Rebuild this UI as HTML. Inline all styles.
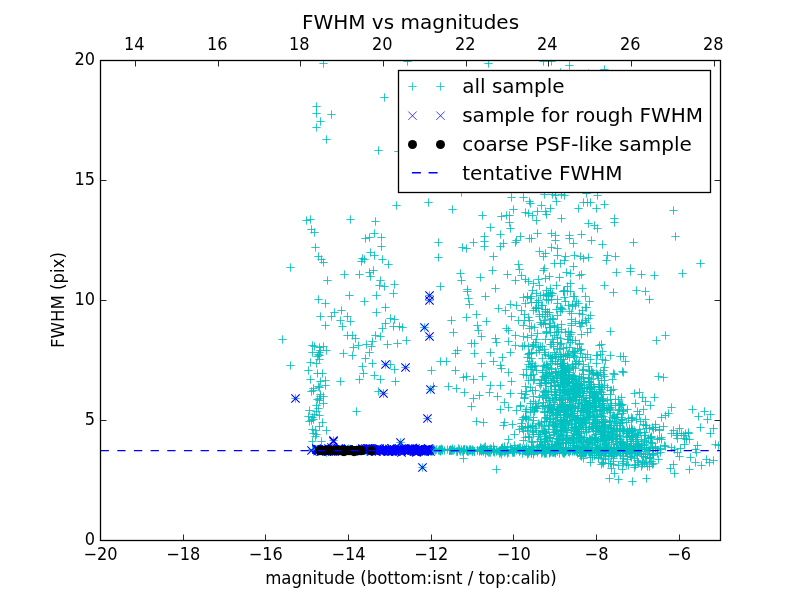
<!DOCTYPE html>
<html><head><meta charset="utf-8"><title>FWHM vs magnitudes</title>
<style>
html,body{margin:0;padding:0;background:#fff;}
body{width:800px;height:600px;overflow:hidden;}
svg{display:block;}
text{font-family:"DejaVu Sans","Liberation Sans",sans-serif;fill:#000;}
.tk{font-size:16.67px;}
.ti{font-size:20px;}
.lg{font-size:20px;}
.c{stroke:#00bfbf;stroke-width:0.85;fill:none;}
.b{stroke:#0000ff;stroke-width:1.05;fill:none;}
</style></head><body>
<svg width="800" height="600" viewBox="0 0 800 600">
<rect width="800" height="600" fill="#fff"/>

<clipPath id="ax"><rect x="100" y="60" width="620" height="480"/></clipPath>
<g clip-path="url(#ax)">
<path class="c" d="M560.33 290.5h8.34M564.5 286.33v8.34M523.33 297.5h8.34M527.5 293.33v8.34M527.33 296.5h8.34M531.5 292.33v8.34M544.33 296.5h8.34M548.5 292.33v8.34M570.33 296.5h8.34M574.5 292.33v8.34M561.33 301.5h8.34M565.5 297.33v8.34M538.33 305.5h8.34M542.5 301.33v8.34M553.33 303.5h8.34M557.5 299.33v8.34M581.33 307.5h8.34M585.5 303.33v8.34M556.33 311.5h8.34M560.5 307.33v8.34M520.33 314.5h8.34M524.5 310.33v8.34M541.33 316.5h8.34M545.5 312.33v8.34M571.33 321.5h8.34M575.5 317.33v8.34M584.33 318.5h8.34M588.5 314.33v8.34M536.33 322.5h8.34M540.5 318.33v8.34M567.33 325.5h8.34M571.5 321.33v8.34M578.33 322.5h8.34M582.5 318.33v8.34M530.33 327.5h8.34M534.5 323.33v8.34M542.33 332.5h8.34M546.5 328.33v8.34M552.33 332.5h8.34M556.5 328.33v8.34M567.33 332.5h8.34M571.5 328.33v8.34M532.33 339.5h8.34M536.5 335.33v8.34M568.33 340.5h8.34M572.5 336.33v8.34M553.33 342.5h8.34M557.5 338.33v8.34M557.33 343.5h8.34M561.5 339.33v8.34M575.33 344.5h8.34M579.5 340.33v8.34M553.33 348.5h8.34M557.5 344.33v8.34M562.33 347.5h8.34M566.5 343.33v8.34M540.33 352.5h8.34M544.5 348.33v8.34M570.33 351.5h8.34M574.5 347.33v8.34M565.33 357.5h8.34M569.5 353.33v8.34M592.33 355.5h8.34M596.5 351.33v8.34M548.33 358.5h8.34M552.5 354.33v8.34M575.33 361.5h8.34M579.5 357.33v8.34M557.33 364.5h8.34M561.5 360.33v8.34M600.33 367.5h8.34M604.5 363.33v8.34M562.33 371.5h8.34M566.5 367.33v8.34M592.33 373.5h8.34M596.5 369.33v8.34M522.33 375.5h8.34M526.5 371.33v8.34M527.33 375.5h8.34M531.5 371.33v8.34M542.33 375.5h8.34M546.5 371.33v8.34M558.33 375.5h8.34M562.5 371.33v8.34M565.33 374.5h8.34M569.5 370.33v8.34M568.33 377.5h8.34M572.5 373.33v8.34M584.33 377.5h8.34M588.5 373.33v8.34M593.33 374.5h8.34M597.5 370.33v8.34M567.33 379.5h8.34M571.5 375.33v8.34M564.33 381.5h8.34M568.5 377.33v8.34M568.33 378.5h8.34M572.5 374.33v8.34M558.33 382.5h8.34M562.5 378.33v8.34M563.33 383.5h8.34M567.5 379.33v8.34M562.33 384.5h8.34M566.5 380.33v8.34M571.33 384.5h8.34M575.5 380.33v8.34M575.33 384.5h8.34M579.5 380.33v8.34M584.33 382.5h8.34M588.5 378.33v8.34M559.33 389.5h8.34M563.5 385.33v8.34M558.33 389.5h8.34M562.5 385.33v8.34M574.33 386.5h8.34M578.5 382.33v8.34M582.33 387.5h8.34M586.5 383.33v8.34M586.33 389.5h8.34M590.5 385.33v8.34M590.33 387.5h8.34M594.5 383.33v8.34M595.33 386.5h8.34M599.5 382.33v8.34M556.33 390.5h8.34M560.5 386.33v8.34M560.33 391.5h8.34M564.5 387.33v8.34M572.33 391.5h8.34M576.5 387.33v8.34M574.33 390.5h8.34M578.5 386.33v8.34M578.33 393.5h8.34M582.5 389.33v8.34M579.33 393.5h8.34M583.5 389.33v8.34M578.33 393.5h8.34M582.5 389.33v8.34M590.33 393.5h8.34M594.5 389.33v8.34M596.33 391.5h8.34M600.5 387.33v8.34M597.33 392.5h8.34M601.5 388.33v8.34M607.33 390.5h8.34M611.5 386.33v8.34M529.33 396.5h8.34M533.5 392.33v8.34M559.33 395.5h8.34M563.5 391.33v8.34M561.33 395.5h8.34M565.5 391.33v8.34M564.33 397.5h8.34M568.5 393.33v8.34M575.33 396.5h8.34M579.5 392.33v8.34M572.33 395.5h8.34M576.5 391.33v8.34M585.33 397.5h8.34M589.5 393.33v8.34M591.33 395.5h8.34M595.5 391.33v8.34M590.33 396.5h8.34M594.5 392.33v8.34M546.33 400.5h8.34M550.5 396.33v8.34M567.33 400.5h8.34M571.5 396.33v8.34M595.33 401.5h8.34M599.5 397.33v8.34M598.33 399.5h8.34M602.5 395.33v8.34M598.33 398.5h8.34M602.5 394.33v8.34M603.33 400.5h8.34M607.5 396.33v8.34M606.33 399.5h8.34M610.5 395.33v8.34M543.33 405.5h8.34M547.5 401.33v8.34M545.33 405.5h8.34M549.5 401.33v8.34M559.33 405.5h8.34M563.5 401.33v8.34M566.33 405.5h8.34M570.5 401.33v8.34M568.33 405.5h8.34M572.5 401.33v8.34M611.33 405.5h8.34M615.5 401.33v8.34M516.33 406.5h8.34M520.5 402.33v8.34M522.33 409.5h8.34M526.5 405.33v8.34M526.33 409.5h8.34M530.5 405.33v8.34M531.33 408.5h8.34M535.5 404.33v8.34M532.33 406.5h8.34M536.5 402.33v8.34M546.33 408.5h8.34M550.5 404.33v8.34M558.33 407.5h8.34M562.5 403.33v8.34M563.33 408.5h8.34M567.5 404.33v8.34M570.33 408.5h8.34M574.5 404.33v8.34M579.33 408.5h8.34M583.5 404.33v8.34M578.33 408.5h8.34M582.5 404.33v8.34M580.33 408.5h8.34M584.5 404.33v8.34M584.33 409.5h8.34M588.5 405.33v8.34M588.33 409.5h8.34M592.5 405.33v8.34M598.33 407.5h8.34M602.5 403.33v8.34M600.33 407.5h8.34M604.5 403.33v8.34M606.33 409.5h8.34M610.5 405.33v8.34M540.33 412.5h8.34M544.5 408.33v8.34M554.33 410.5h8.34M558.5 406.33v8.34M560.33 411.5h8.34M564.5 407.33v8.34M562.33 410.5h8.34M566.5 406.33v8.34M568.33 413.5h8.34M572.5 409.33v8.34M570.33 411.5h8.34M574.5 407.33v8.34M579.33 411.5h8.34M583.5 407.33v8.34M577.33 410.5h8.34M581.5 406.33v8.34M583.33 411.5h8.34M587.5 407.33v8.34M586.33 411.5h8.34M590.5 407.33v8.34M588.33 411.5h8.34M592.5 407.33v8.34M596.33 411.5h8.34M600.5 407.33v8.34M598.33 413.5h8.34M602.5 409.33v8.34M619.33 411.5h8.34M623.5 407.33v8.34M618.33 413.5h8.34M622.5 409.33v8.34M553.33 415.5h8.34M557.5 411.33v8.34M553.33 414.5h8.34M557.5 410.33v8.34M553.33 417.5h8.34M557.5 413.33v8.34M560.33 417.5h8.34M564.5 413.33v8.34M564.33 414.5h8.34M568.5 410.33v8.34M578.33 417.5h8.34M582.5 413.33v8.34M590.33 417.5h8.34M594.5 413.33v8.34M593.33 414.5h8.34M597.5 410.33v8.34M609.33 415.5h8.34M613.5 411.33v8.34M627.33 417.5h8.34M631.5 413.33v8.34M529.33 420.5h8.34M533.5 416.33v8.34M546.33 419.5h8.34M550.5 415.33v8.34M551.33 419.5h8.34M555.5 415.33v8.34M557.33 420.5h8.34M561.5 416.33v8.34M559.33 419.5h8.34M563.5 415.33v8.34M565.33 420.5h8.34M569.5 416.33v8.34M571.33 418.5h8.34M575.5 414.33v8.34M574.33 420.5h8.34M578.5 416.33v8.34M580.33 419.5h8.34M584.5 415.33v8.34M590.33 419.5h8.34M594.5 415.33v8.34M605.33 420.5h8.34M609.5 416.33v8.34M605.33 421.5h8.34M609.5 417.33v8.34M617.33 420.5h8.34M621.5 416.33v8.34M617.33 419.5h8.34M621.5 415.33v8.34M627.33 420.5h8.34M631.5 416.33v8.34M624.33 418.5h8.34M628.5 414.33v8.34M528.33 425.5h8.34M532.5 421.33v8.34M549.33 422.5h8.34M553.5 418.33v8.34M557.33 423.5h8.34M561.5 419.33v8.34M567.33 423.5h8.34M571.5 419.33v8.34M585.33 422.5h8.34M589.5 418.33v8.34M592.33 425.5h8.34M596.5 421.33v8.34M598.33 422.5h8.34M602.5 418.33v8.34M600.33 424.5h8.34M604.5 420.33v8.34M605.33 425.5h8.34M609.5 421.33v8.34M606.33 422.5h8.34M610.5 418.33v8.34M531.33 428.5h8.34M535.5 424.33v8.34M559.33 428.5h8.34M563.5 424.33v8.34M560.33 429.5h8.34M564.5 425.33v8.34M561.33 429.5h8.34M565.5 425.33v8.34M572.33 426.5h8.34M576.5 422.33v8.34M576.33 426.5h8.34M580.5 422.33v8.34M579.33 429.5h8.34M583.5 425.33v8.34M591.33 427.5h8.34M595.5 423.33v8.34M588.33 428.5h8.34M592.5 424.33v8.34M600.33 427.5h8.34M604.5 423.33v8.34M609.33 429.5h8.34M613.5 425.33v8.34M627.33 428.5h8.34M631.5 424.33v8.34M625.33 428.5h8.34M629.5 424.33v8.34M628.33 429.5h8.34M632.5 425.33v8.34M648.33 427.5h8.34M652.5 423.33v8.34M519.33 431.5h8.34M523.5 427.33v8.34M523.33 430.5h8.34M527.5 426.33v8.34M529.33 432.5h8.34M533.5 428.33v8.34M550.33 432.5h8.34M554.5 428.33v8.34M552.33 430.5h8.34M556.5 426.33v8.34M556.33 431.5h8.34M560.5 427.33v8.34M582.33 432.5h8.34M586.5 428.33v8.34M599.33 432.5h8.34M603.5 428.33v8.34M604.33 432.5h8.34M608.5 428.33v8.34M607.33 433.5h8.34M611.5 429.33v8.34M619.33 431.5h8.34M623.5 427.33v8.34M655.33 430.5h8.34M659.5 426.33v8.34M681.33 433.5h8.34M685.5 429.33v8.34M684.33 432.5h8.34M688.5 428.33v8.34M545.33 437.5h8.34M549.5 433.33v8.34M559.33 435.5h8.34M563.5 431.33v8.34M556.33 436.5h8.34M560.5 432.33v8.34M568.33 437.5h8.34M572.5 433.33v8.34M580.33 437.5h8.34M584.5 433.33v8.34M591.33 434.5h8.34M595.5 430.33v8.34M598.33 436.5h8.34M602.5 432.33v8.34M596.33 434.5h8.34M600.5 430.33v8.34M604.33 435.5h8.34M608.5 431.33v8.34M625.33 436.5h8.34M629.5 432.33v8.34M628.33 437.5h8.34M632.5 433.33v8.34M628.33 435.5h8.34M632.5 431.33v8.34M647.33 436.5h8.34M651.5 432.33v8.34M519.33 440.5h8.34M523.5 436.33v8.34M527.33 441.5h8.34M531.5 437.33v8.34M542.33 438.5h8.34M546.5 434.33v8.34M548.33 441.5h8.34M552.5 437.33v8.34M555.33 440.5h8.34M559.5 436.33v8.34M558.33 438.5h8.34M562.5 434.33v8.34M574.33 441.5h8.34M578.5 437.33v8.34M576.33 438.5h8.34M580.5 434.33v8.34M583.33 441.5h8.34M587.5 437.33v8.34M587.33 439.5h8.34M591.5 435.33v8.34M590.33 439.5h8.34M594.5 435.33v8.34M593.33 441.5h8.34M597.5 437.33v8.34M602.33 439.5h8.34M606.5 435.33v8.34M605.33 440.5h8.34M609.5 436.33v8.34M607.33 439.5h8.34M611.5 435.33v8.34M613.33 438.5h8.34M617.5 434.33v8.34M612.33 438.5h8.34M616.5 434.33v8.34M626.33 439.5h8.34M630.5 435.33v8.34M631.33 439.5h8.34M635.5 435.33v8.34M640.33 441.5h8.34M644.5 437.33v8.34M644.33 438.5h8.34M648.5 434.33v8.34M680.33 438.5h8.34M684.5 434.33v8.34M685.33 439.5h8.34M689.5 435.33v8.34M554.33 444.5h8.34M558.5 440.33v8.34M556.33 442.5h8.34M560.5 438.33v8.34M561.33 442.5h8.34M565.5 438.33v8.34M575.33 442.5h8.34M579.5 438.33v8.34M600.33 444.5h8.34M604.5 440.33v8.34M613.33 443.5h8.34M617.5 439.33v8.34M618.33 445.5h8.34M622.5 441.33v8.34M616.33 442.5h8.34M620.5 438.33v8.34M623.33 443.5h8.34M627.5 439.33v8.34M629.33 445.5h8.34M633.5 441.33v8.34M640.33 445.5h8.34M644.5 441.33v8.34M660.33 445.5h8.34M664.5 441.33v8.34M680.33 444.5h8.34M684.5 440.33v8.34M539.33 449.5h8.34M543.5 445.33v8.34M566.33 447.5h8.34M570.5 443.33v8.34M570.33 448.5h8.34M574.5 444.33v8.34M574.33 449.5h8.34M578.5 445.33v8.34M595.33 446.5h8.34M599.5 442.33v8.34M596.33 447.5h8.34M600.5 443.33v8.34M614.33 449.5h8.34M618.5 445.33v8.34M612.33 447.5h8.34M616.5 443.33v8.34M612.33 448.5h8.34M616.5 444.33v8.34M626.33 448.5h8.34M630.5 444.33v8.34M635.33 446.5h8.34M639.5 442.33v8.34M640.33 448.5h8.34M644.5 444.33v8.34M667.33 447.5h8.34M671.5 443.33v8.34M676.33 448.5h8.34M680.5 444.33v8.34M549.33 452.5h8.34M553.5 448.33v8.34M559.33 450.5h8.34M563.5 446.33v8.34M573.33 453.5h8.34M577.5 449.33v8.34M590.33 453.5h8.34M594.5 449.33v8.34M592.33 451.5h8.34M596.5 447.33v8.34M602.33 450.5h8.34M606.5 446.33v8.34M601.33 453.5h8.34M605.5 449.33v8.34M605.33 452.5h8.34M609.5 448.33v8.34M606.33 451.5h8.34M610.5 447.33v8.34M631.33 450.5h8.34M635.5 446.33v8.34M633.33 451.5h8.34M637.5 447.33v8.34M577.33 456.5h8.34M581.5 452.33v8.34M588.33 455.5h8.34M592.5 451.33v8.34M588.33 457.5h8.34M592.5 453.33v8.34M597.33 455.5h8.34M601.5 451.33v8.34M610.33 454.5h8.34M614.5 450.33v8.34M619.33 456.5h8.34M623.5 452.33v8.34M626.33 456.5h8.34M630.5 452.33v8.34M649.33 454.5h8.34M653.5 450.33v8.34M675.33 456.5h8.34M679.5 452.33v8.34M599.33 458.5h8.34M603.5 454.33v8.34M601.33 459.5h8.34M605.5 455.33v8.34M609.33 458.5h8.34M613.5 454.33v8.34M645.33 458.5h8.34M649.5 454.33v8.34M586.33 462.5h8.34M590.5 458.33v8.34M614.33 465.5h8.34M618.5 461.33v8.34M618.33 469.5h8.34M622.5 465.33v8.34M643.33 466.5h8.34M647.5 462.33v8.34M316.33 450.5h8.34M320.5 446.33v8.34M326.33 448.5h8.34M330.5 444.33v8.34M334.33 451.5h8.34M338.5 447.33v8.34M334.33 449.5h8.34M338.5 445.33v8.34M337.33 450.5h8.34M341.5 446.33v8.34M338.33 451.5h8.34M342.5 447.33v8.34M338.33 448.5h8.34M342.5 444.33v8.34M340.33 448.5h8.34M344.5 444.33v8.34M345.33 450.5h8.34M349.5 446.33v8.34M345.33 450.5h8.34M349.5 446.33v8.34M347.33 450.5h8.34M351.5 446.33v8.34M352.33 450.5h8.34M356.5 446.33v8.34M352.33 450.5h8.34M356.5 446.33v8.34M353.33 451.5h8.34M357.5 447.33v8.34M353.33 451.5h8.34M357.5 447.33v8.34M356.33 450.5h8.34M360.5 446.33v8.34M359.33 449.5h8.34M363.5 445.33v8.34M363.33 450.5h8.34M367.5 446.33v8.34M365.33 450.5h8.34M369.5 446.33v8.34M373.33 449.5h8.34M377.5 445.33v8.34M377.33 450.5h8.34M381.5 446.33v8.34M379.33 449.5h8.34M383.5 445.33v8.34M381.33 448.5h8.34M385.5 444.33v8.34M382.33 451.5h8.34M386.5 447.33v8.34M383.33 451.5h8.34M387.5 447.33v8.34M388.33 449.5h8.34M392.5 445.33v8.34M392.33 450.5h8.34M396.5 446.33v8.34M398.33 449.5h8.34M402.5 445.33v8.34M399.33 450.5h8.34M403.5 446.33v8.34M413.33 449.5h8.34M417.5 445.33v8.34M418.33 450.5h8.34M422.5 446.33v8.34M420.33 451.5h8.34M424.5 447.33v8.34M426.33 450.5h8.34M430.5 446.33v8.34M428.33 450.5h8.34M432.5 446.33v8.34M429.33 450.5h8.34M433.5 446.33v8.34M431.33 450.5h8.34M435.5 446.33v8.34M438.33 450.5h8.34M442.5 446.33v8.34M448.33 448.5h8.34M452.5 444.33v8.34M448.33 450.5h8.34M452.5 446.33v8.34M462.33 450.5h8.34M466.5 446.33v8.34M463.33 451.5h8.34M467.5 447.33v8.34M466.33 450.5h8.34M470.5 446.33v8.34M468.33 451.5h8.34M472.5 447.33v8.34M468.33 451.5h8.34M472.5 447.33v8.34M476.33 450.5h8.34M480.5 446.33v8.34M478.33 449.5h8.34M482.5 445.33v8.34M479.33 448.5h8.34M483.5 444.33v8.34M483.33 450.5h8.34M487.5 446.33v8.34M487.33 449.5h8.34M491.5 445.33v8.34M489.33 451.5h8.34M493.5 447.33v8.34M490.33 449.5h8.34M494.5 445.33v8.34M490.33 450.5h8.34M494.5 446.33v8.34M495.33 453.5h8.34M499.5 449.33v8.34M497.33 450.5h8.34M501.5 446.33v8.34M497.33 449.5h8.34M501.5 445.33v8.34M502.33 450.5h8.34M506.5 446.33v8.34M506.33 449.5h8.34M510.5 445.33v8.34M508.33 452.5h8.34M512.5 448.33v8.34M509.33 452.5h8.34M513.5 448.33v8.34M510.33 452.5h8.34M514.5 448.33v8.34M510.33 445.5h8.34M514.5 441.33v8.34M511.33 448.5h8.34M515.5 444.33v8.34M515.33 449.5h8.34M519.5 445.33v8.34M521.33 451.5h8.34M525.5 447.33v8.34M524.33 453.5h8.34M528.5 449.33v8.34M530.33 451.5h8.34M534.5 447.33v8.34M535.33 447.5h8.34M539.5 443.33v8.34M541.33 447.5h8.34M545.5 443.33v8.34M541.33 448.5h8.34M545.5 444.33v8.34M545.33 451.5h8.34M549.5 447.33v8.34M547.33 451.5h8.34M551.5 447.33v8.34M549.33 450.5h8.34M553.5 446.33v8.34M549.33 451.5h8.34M553.5 447.33v8.34M559.33 449.5h8.34M563.5 445.33v8.34M559.33 448.5h8.34M563.5 444.33v8.34M560.33 451.5h8.34M564.5 447.33v8.34M561.33 451.5h8.34M565.5 447.33v8.34M564.33 449.5h8.34M568.5 445.33v8.34M565.33 452.5h8.34M569.5 448.33v8.34M570.33 450.5h8.34M574.5 446.33v8.34M571.33 450.5h8.34M575.5 446.33v8.34M572.33 449.5h8.34M576.5 445.33v8.34M575.33 449.5h8.34M579.5 445.33v8.34M576.33 446.5h8.34M580.5 442.33v8.34M581.33 452.5h8.34M585.5 448.33v8.34M583.33 448.5h8.34M587.5 444.33v8.34M584.33 448.5h8.34M588.5 444.33v8.34M585.33 451.5h8.34M589.5 447.33v8.34M588.33 452.5h8.34M592.5 448.33v8.34M595.33 449.5h8.34M599.5 445.33v8.34M597.33 452.5h8.34M601.5 448.33v8.34M599.33 452.5h8.34M603.5 448.33v8.34M601.33 451.5h8.34M605.5 447.33v8.34M607.33 448.5h8.34M611.5 444.33v8.34M612.33 449.5h8.34M616.5 445.33v8.34M612.33 447.5h8.34M616.5 443.33v8.34M614.33 450.5h8.34M618.5 446.33v8.34M616.33 448.5h8.34M620.5 444.33v8.34M618.33 451.5h8.34M622.5 447.33v8.34M619.33 445.5h8.34M623.5 441.33v8.34M620.33 448.5h8.34M624.5 444.33v8.34M621.33 451.5h8.34M625.5 447.33v8.34M621.33 452.5h8.34M625.5 448.33v8.34M622.33 448.5h8.34M626.5 444.33v8.34M625.33 447.5h8.34M629.5 443.33v8.34M635.33 449.5h8.34M639.5 445.33v8.34M645.33 450.5h8.34M649.5 446.33v8.34M645.33 450.5h8.34M649.5 446.33v8.34M380.33 97.5h8.34M384.5 93.33v8.34M370.33 233.5h8.34M374.5 229.33v8.34M360.33 259.5h8.34M364.5 255.33v8.34M384.33 264.5h8.34M388.5 260.33v8.34M390.33 284.5h8.34M394.5 280.33v8.34M389.33 293.5h8.34M393.5 289.33v8.34M314.33 299.5h8.34M318.5 295.33v8.34M330.33 312.5h8.34M334.5 308.33v8.34M327.33 316.5h8.34M331.5 312.33v8.34M336.33 320.5h8.34M340.5 316.33v8.34M390.33 319.5h8.34M394.5 315.33v8.34M351.33 338.5h8.34M355.5 334.33v8.34M371.33 335.5h8.34M375.5 331.33v8.34M278.33 339.5h8.34M282.5 335.33v8.34M354.33 345.5h8.34M358.5 341.33v8.34M367.33 346.5h8.34M371.5 342.33v8.34M393.33 343.5h8.34M397.5 339.33v8.34M348.33 355.5h8.34M352.5 351.33v8.34M336.33 381.5h8.34M340.5 377.33v8.34M291.33 398.5h8.34M295.5 394.33v8.34M457.33 192.5h8.34M461.5 188.33v8.34M502.33 215.5h8.34M506.5 211.33v8.34M524.33 213.5h8.34M528.5 209.33v8.34M486.33 227.5h8.34M490.5 223.33v8.34M480.33 241.5h8.34M484.5 237.33v8.34M516.33 236.5h8.34M520.5 232.33v8.34M496.33 246.5h8.34M500.5 242.33v8.34M434.33 257.5h8.34M438.5 253.33v8.34M463.33 289.5h8.34M467.5 285.33v8.34M494.33 308.5h8.34M498.5 304.33v8.34M512.33 305.5h8.34M516.5 301.33v8.34M511.33 335.5h8.34M515.5 331.33v8.34M436.33 361.5h8.34M440.5 357.33v8.34M451.33 370.5h8.34M455.5 366.33v8.34M496.33 385.5h8.34M500.5 381.33v8.34M444.33 386.5h8.34M448.5 382.33v8.34M499.33 425.5h8.34M503.5 421.33v8.34M515.33 429.5h8.34M519.5 425.33v8.34M423.33 418.5h8.34M427.5 414.33v8.34M593.33 195.5h8.34M597.5 191.33v8.34M533.33 211.5h8.34M537.5 207.33v8.34M528.33 215.5h8.34M532.5 211.33v8.34M592.33 208.5h8.34M596.5 204.33v8.34M551.33 235.5h8.34M555.5 231.33v8.34M569.33 243.5h8.34M573.5 239.33v8.34M626.33 268.5h8.34M630.5 264.33v8.34M632.33 290.5h8.34M636.5 286.33v8.34M641.33 291.5h8.34M645.5 287.33v8.34M595.33 345.5h8.34M599.5 341.33v8.34M601.33 360.5h8.34M605.5 356.33v8.34M669.33 210.5h8.34M673.5 206.33v8.34M671.33 236.5h8.34M675.5 232.33v8.34M696.33 263.5h8.34M700.5 259.33v8.34M619.33 372.5h8.34M623.5 368.33v8.34M630.33 393.5h8.34M634.5 389.33v8.34M706.33 433.5h8.34M710.5 429.33v8.34M693.33 445.5h8.34M697.5 441.33v8.34M692.33 452.5h8.34M696.5 448.33v8.34M310.33 346.5h8.34M314.5 342.33v8.34M312.33 363.5h8.34M316.5 359.33v8.34M304.33 370.5h8.34M308.5 366.33v8.34M309.33 388.5h8.34M313.5 384.33v8.34M315.33 398.5h8.34M319.5 394.33v8.34M312.33 405.5h8.34M316.5 401.33v8.34M312.33 411.5h8.34M316.5 407.33v8.34M315.33 415.5h8.34M319.5 411.33v8.34M308.33 429.5h8.34M312.5 425.33v8.34M311.33 436.5h8.34M315.5 432.33v8.34M308.33 441.5h8.34M312.5 437.33v8.34M547.33 61.5h8.34M551.5 57.33v8.34M565.33 65.5h8.34M569.5 61.33v8.34M556.33 72.5h8.34M560.5 68.33v8.34"/>
<path class="c" d="M566.33 291.5h8.34M570.5 287.33v8.34M523.33 296.5h8.34M527.5 292.33v8.34M542.33 294.5h8.34M546.5 290.33v8.34M569.33 296.5h8.34M573.5 292.33v8.34M526.33 298.5h8.34M530.5 294.33v8.34M544.33 300.5h8.34M548.5 296.33v8.34M553.33 299.5h8.34M557.5 295.33v8.34M572.33 301.5h8.34M576.5 297.33v8.34M534.33 302.5h8.34M538.5 298.33v8.34M537.33 305.5h8.34M541.5 301.33v8.34M564.33 305.5h8.34M568.5 301.33v8.34M571.33 305.5h8.34M575.5 301.33v8.34M568.33 304.5h8.34M572.5 300.33v8.34M574.33 303.5h8.34M578.5 299.33v8.34M532.33 307.5h8.34M536.5 303.33v8.34M552.33 309.5h8.34M556.5 305.33v8.34M558.33 309.5h8.34M562.5 305.33v8.34M557.33 308.5h8.34M561.5 304.33v8.34M543.33 312.5h8.34M547.5 308.33v8.34M541.33 311.5h8.34M545.5 307.33v8.34M540.33 320.5h8.34M544.5 316.33v8.34M567.33 319.5h8.34M571.5 315.33v8.34M582.33 322.5h8.34M586.5 318.33v8.34M525.33 328.5h8.34M529.5 324.33v8.34M546.33 327.5h8.34M550.5 323.33v8.34M564.33 331.5h8.34M568.5 327.33v8.34M550.33 335.5h8.34M554.5 331.33v8.34M564.33 339.5h8.34M568.5 335.33v8.34M520.33 345.5h8.34M524.5 341.33v8.34M547.33 344.5h8.34M551.5 340.33v8.34M518.33 346.5h8.34M522.5 342.33v8.34M555.33 349.5h8.34M559.5 345.33v8.34M577.33 349.5h8.34M581.5 345.33v8.34M527.33 352.5h8.34M531.5 348.33v8.34M525.33 353.5h8.34M529.5 349.33v8.34M550.33 352.5h8.34M554.5 348.33v8.34M569.33 352.5h8.34M573.5 348.33v8.34M576.33 350.5h8.34M580.5 346.33v8.34M541.33 354.5h8.34M545.5 350.33v8.34M563.33 354.5h8.34M567.5 350.33v8.34M570.33 357.5h8.34M574.5 353.33v8.34M593.33 355.5h8.34M597.5 351.33v8.34M558.33 363.5h8.34M562.5 359.33v8.34M557.33 368.5h8.34M561.5 364.33v8.34M561.33 369.5h8.34M565.5 365.33v8.34M564.33 368.5h8.34M568.5 364.33v8.34M571.33 368.5h8.34M575.5 364.33v8.34M547.33 373.5h8.34M551.5 369.33v8.34M561.33 372.5h8.34M565.5 368.33v8.34M560.33 372.5h8.34M564.5 368.33v8.34M578.33 370.5h8.34M582.5 366.33v8.34M585.33 370.5h8.34M589.5 366.33v8.34M587.33 370.5h8.34M591.5 366.33v8.34M599.33 370.5h8.34M603.5 366.33v8.34M519.33 374.5h8.34M523.5 370.33v8.34M526.33 375.5h8.34M530.5 371.33v8.34M539.33 376.5h8.34M543.5 372.33v8.34M543.33 374.5h8.34M547.5 370.33v8.34M561.33 374.5h8.34M565.5 370.33v8.34M561.33 377.5h8.34M565.5 373.33v8.34M537.33 380.5h8.34M541.5 376.33v8.34M552.33 378.5h8.34M556.5 374.33v8.34M559.33 379.5h8.34M563.5 375.33v8.34M560.33 381.5h8.34M564.5 377.33v8.34M563.33 378.5h8.34M567.5 374.33v8.34M579.33 378.5h8.34M583.5 374.33v8.34M600.33 380.5h8.34M604.5 376.33v8.34M541.33 383.5h8.34M545.5 379.33v8.34M563.33 382.5h8.34M567.5 378.33v8.34M571.33 385.5h8.34M575.5 381.33v8.34M572.33 383.5h8.34M576.5 379.33v8.34M585.33 382.5h8.34M589.5 378.33v8.34M589.33 384.5h8.34M593.5 380.33v8.34M521.33 386.5h8.34M525.5 382.33v8.34M566.33 389.5h8.34M570.5 385.33v8.34M580.33 388.5h8.34M584.5 384.33v8.34M595.33 386.5h8.34M599.5 382.33v8.34M550.33 391.5h8.34M554.5 387.33v8.34M566.33 390.5h8.34M570.5 386.33v8.34M567.33 390.5h8.34M571.5 386.33v8.34M572.33 392.5h8.34M576.5 388.33v8.34M576.33 392.5h8.34M580.5 388.33v8.34M606.33 390.5h8.34M610.5 386.33v8.34M538.33 396.5h8.34M542.5 392.33v8.34M550.33 394.5h8.34M554.5 390.33v8.34M551.33 395.5h8.34M555.5 391.33v8.34M552.33 394.5h8.34M556.5 390.33v8.34M558.33 395.5h8.34M562.5 391.33v8.34M563.33 397.5h8.34M567.5 393.33v8.34M589.33 394.5h8.34M593.5 390.33v8.34M544.33 398.5h8.34M548.5 394.33v8.34M548.33 398.5h8.34M552.5 394.33v8.34M565.33 398.5h8.34M569.5 394.33v8.34M569.33 401.5h8.34M573.5 397.33v8.34M581.33 400.5h8.34M585.5 396.33v8.34M580.33 400.5h8.34M584.5 396.33v8.34M590.33 398.5h8.34M594.5 394.33v8.34M594.33 399.5h8.34M598.5 395.33v8.34M526.33 403.5h8.34M530.5 399.33v8.34M559.33 405.5h8.34M563.5 401.33v8.34M561.33 404.5h8.34M565.5 400.33v8.34M574.33 403.5h8.34M578.5 399.33v8.34M577.33 402.5h8.34M581.5 398.33v8.34M583.33 404.5h8.34M587.5 400.33v8.34M588.33 402.5h8.34M592.5 398.33v8.34M616.33 404.5h8.34M620.5 400.33v8.34M618.33 404.5h8.34M622.5 400.33v8.34M528.33 407.5h8.34M532.5 403.33v8.34M531.33 407.5h8.34M535.5 403.33v8.34M533.33 408.5h8.34M537.5 404.33v8.34M556.33 407.5h8.34M560.5 403.33v8.34M557.33 407.5h8.34M561.5 403.33v8.34M560.33 406.5h8.34M564.5 402.33v8.34M565.33 406.5h8.34M569.5 402.33v8.34M568.33 407.5h8.34M572.5 403.33v8.34M573.33 408.5h8.34M577.5 404.33v8.34M586.33 407.5h8.34M590.5 403.33v8.34M588.33 408.5h8.34M592.5 404.33v8.34M599.33 409.5h8.34M603.5 405.33v8.34M596.33 407.5h8.34M600.5 403.33v8.34M606.33 407.5h8.34M610.5 403.33v8.34M530.33 411.5h8.34M534.5 407.33v8.34M548.33 413.5h8.34M552.5 409.33v8.34M548.33 410.5h8.34M552.5 406.33v8.34M551.33 412.5h8.34M555.5 408.33v8.34M552.33 410.5h8.34M556.5 406.33v8.34M564.33 410.5h8.34M568.5 406.33v8.34M582.33 411.5h8.34M586.5 407.33v8.34M586.33 411.5h8.34M590.5 407.33v8.34M619.33 410.5h8.34M623.5 406.33v8.34M633.33 411.5h8.34M637.5 407.33v8.34M541.33 417.5h8.34M545.5 413.33v8.34M545.33 415.5h8.34M549.5 411.33v8.34M556.33 417.5h8.34M560.5 413.33v8.34M562.33 414.5h8.34M566.5 410.33v8.34M573.33 417.5h8.34M577.5 413.33v8.34M586.33 416.5h8.34M590.5 412.33v8.34M589.33 417.5h8.34M593.5 413.33v8.34M597.33 415.5h8.34M601.5 411.33v8.34M608.33 417.5h8.34M612.5 413.33v8.34M613.33 414.5h8.34M617.5 410.33v8.34M522.33 418.5h8.34M526.5 414.33v8.34M540.33 421.5h8.34M544.5 417.33v8.34M545.33 419.5h8.34M549.5 415.33v8.34M563.33 420.5h8.34M567.5 416.33v8.34M570.33 419.5h8.34M574.5 415.33v8.34M580.33 419.5h8.34M584.5 415.33v8.34M593.33 421.5h8.34M597.5 417.33v8.34M599.33 421.5h8.34M603.5 417.33v8.34M628.33 418.5h8.34M632.5 414.33v8.34M534.33 423.5h8.34M538.5 419.33v8.34M537.33 422.5h8.34M541.5 418.33v8.34M545.33 425.5h8.34M549.5 421.33v8.34M548.33 424.5h8.34M552.5 420.33v8.34M558.33 422.5h8.34M562.5 418.33v8.34M563.33 422.5h8.34M567.5 418.33v8.34M561.33 423.5h8.34M565.5 419.33v8.34M578.33 424.5h8.34M582.5 420.33v8.34M582.33 423.5h8.34M586.5 419.33v8.34M591.33 423.5h8.34M595.5 419.33v8.34M599.33 422.5h8.34M603.5 418.33v8.34M607.33 425.5h8.34M611.5 421.33v8.34M612.33 423.5h8.34M616.5 419.33v8.34M622.33 422.5h8.34M626.5 418.33v8.34M639.33 424.5h8.34M643.5 420.33v8.34M642.33 425.5h8.34M646.5 421.33v8.34M521.33 427.5h8.34M525.5 423.33v8.34M528.33 426.5h8.34M532.5 422.33v8.34M549.33 429.5h8.34M553.5 425.33v8.34M552.33 427.5h8.34M556.5 423.33v8.34M553.33 426.5h8.34M557.5 422.33v8.34M562.33 429.5h8.34M566.5 425.33v8.34M570.33 428.5h8.34M574.5 424.33v8.34M575.33 429.5h8.34M579.5 425.33v8.34M584.33 429.5h8.34M588.5 425.33v8.34M601.33 426.5h8.34M605.5 422.33v8.34M619.33 429.5h8.34M623.5 425.33v8.34M675.33 428.5h8.34M679.5 424.33v8.34M540.33 432.5h8.34M544.5 428.33v8.34M554.33 433.5h8.34M558.5 429.33v8.34M570.33 431.5h8.34M574.5 427.33v8.34M574.33 431.5h8.34M578.5 427.33v8.34M597.33 433.5h8.34M601.5 429.33v8.34M596.33 430.5h8.34M600.5 426.33v8.34M607.33 431.5h8.34M611.5 427.33v8.34M608.33 431.5h8.34M612.5 427.33v8.34M615.33 431.5h8.34M619.5 427.33v8.34M627.33 431.5h8.34M631.5 427.33v8.34M630.33 430.5h8.34M634.5 426.33v8.34M673.33 433.5h8.34M677.5 429.33v8.34M684.33 433.5h8.34M688.5 429.33v8.34M535.33 434.5h8.34M539.5 430.33v8.34M536.33 434.5h8.34M540.5 430.33v8.34M562.33 435.5h8.34M566.5 431.33v8.34M574.33 435.5h8.34M578.5 431.33v8.34M572.33 434.5h8.34M576.5 430.33v8.34M590.33 437.5h8.34M594.5 433.33v8.34M599.33 434.5h8.34M603.5 430.33v8.34M601.33 435.5h8.34M605.5 431.33v8.34M612.33 436.5h8.34M616.5 432.33v8.34M628.33 436.5h8.34M632.5 432.33v8.34M631.33 434.5h8.34M635.5 430.33v8.34M632.33 437.5h8.34M636.5 433.33v8.34M646.33 437.5h8.34M650.5 433.33v8.34M537.33 441.5h8.34M541.5 437.33v8.34M562.33 438.5h8.34M566.5 434.33v8.34M564.33 440.5h8.34M568.5 436.33v8.34M586.33 439.5h8.34M590.5 435.33v8.34M591.33 439.5h8.34M595.5 435.33v8.34M592.33 438.5h8.34M596.5 434.33v8.34M596.33 441.5h8.34M600.5 437.33v8.34M600.33 438.5h8.34M604.5 434.33v8.34M607.33 438.5h8.34M611.5 434.33v8.34M611.33 441.5h8.34M615.5 437.33v8.34M633.33 441.5h8.34M637.5 437.33v8.34M633.33 441.5h8.34M637.5 437.33v8.34M528.33 442.5h8.34M532.5 438.33v8.34M553.33 444.5h8.34M557.5 440.33v8.34M564.33 442.5h8.34M568.5 438.33v8.34M568.33 445.5h8.34M572.5 441.33v8.34M572.33 442.5h8.34M576.5 438.33v8.34M583.33 442.5h8.34M587.5 438.33v8.34M590.33 442.5h8.34M594.5 438.33v8.34M591.33 445.5h8.34M595.5 441.33v8.34M619.33 442.5h8.34M623.5 438.33v8.34M622.33 445.5h8.34M626.5 441.33v8.34M620.33 445.5h8.34M624.5 441.33v8.34M637.33 443.5h8.34M641.5 439.33v8.34M640.33 444.5h8.34M644.5 440.33v8.34M533.33 447.5h8.34M537.5 443.33v8.34M543.33 446.5h8.34M547.5 442.33v8.34M544.33 446.5h8.34M548.5 442.33v8.34M547.33 449.5h8.34M551.5 445.33v8.34M593.33 447.5h8.34M597.5 443.33v8.34M593.33 448.5h8.34M597.5 444.33v8.34M600.33 448.5h8.34M604.5 444.33v8.34M607.33 447.5h8.34M611.5 443.33v8.34M612.33 447.5h8.34M616.5 443.33v8.34M619.33 446.5h8.34M623.5 442.33v8.34M626.33 449.5h8.34M630.5 445.33v8.34M630.33 449.5h8.34M634.5 445.33v8.34M545.33 453.5h8.34M549.5 449.33v8.34M561.33 451.5h8.34M565.5 447.33v8.34M581.33 453.5h8.34M585.5 449.33v8.34M594.33 450.5h8.34M598.5 446.33v8.34M610.33 450.5h8.34M614.5 446.33v8.34M627.33 451.5h8.34M631.5 447.33v8.34M637.33 453.5h8.34M641.5 449.33v8.34M649.33 453.5h8.34M653.5 449.33v8.34M656.33 452.5h8.34M660.5 448.33v8.34M576.33 455.5h8.34M580.5 451.33v8.34M641.33 454.5h8.34M645.5 450.33v8.34M638.33 464.5h8.34M642.5 460.33v8.34M642.33 462.5h8.34M646.5 458.33v8.34M669.33 464.5h8.34M673.5 460.33v8.34M630.33 467.5h8.34M634.5 463.33v8.34M310.33 450.5h8.34M314.5 446.33v8.34M310.33 450.5h8.34M314.5 446.33v8.34M310.33 450.5h8.34M314.5 446.33v8.34M311.33 449.5h8.34M315.5 445.33v8.34M316.33 449.5h8.34M320.5 445.33v8.34M320.33 451.5h8.34M324.5 447.33v8.34M321.33 449.5h8.34M325.5 445.33v8.34M322.33 452.5h8.34M326.5 448.33v8.34M328.33 450.5h8.34M332.5 446.33v8.34M339.33 450.5h8.34M343.5 446.33v8.34M341.33 449.5h8.34M345.5 445.33v8.34M353.33 450.5h8.34M357.5 446.33v8.34M364.33 448.5h8.34M368.5 444.33v8.34M380.33 450.5h8.34M384.5 446.33v8.34M381.33 450.5h8.34M385.5 446.33v8.34M392.33 449.5h8.34M396.5 445.33v8.34M394.33 451.5h8.34M398.5 447.33v8.34M395.33 450.5h8.34M399.5 446.33v8.34M396.33 449.5h8.34M400.5 445.33v8.34M398.33 450.5h8.34M402.5 446.33v8.34M406.33 450.5h8.34M410.5 446.33v8.34M413.33 450.5h8.34M417.5 446.33v8.34M413.33 451.5h8.34M417.5 447.33v8.34M419.33 450.5h8.34M423.5 446.33v8.34M419.33 450.5h8.34M423.5 446.33v8.34M419.33 449.5h8.34M423.5 445.33v8.34M420.33 451.5h8.34M424.5 447.33v8.34M424.33 450.5h8.34M428.5 446.33v8.34M430.33 449.5h8.34M434.5 445.33v8.34M440.33 450.5h8.34M444.5 446.33v8.34M446.33 450.5h8.34M450.5 446.33v8.34M447.33 450.5h8.34M451.5 446.33v8.34M450.33 449.5h8.34M454.5 445.33v8.34M462.33 449.5h8.34M466.5 445.33v8.34M467.33 450.5h8.34M471.5 446.33v8.34M470.33 451.5h8.34M474.5 447.33v8.34M470.33 451.5h8.34M474.5 447.33v8.34M470.33 451.5h8.34M474.5 447.33v8.34M473.33 450.5h8.34M477.5 446.33v8.34M477.33 450.5h8.34M481.5 446.33v8.34M478.33 450.5h8.34M482.5 446.33v8.34M479.33 451.5h8.34M483.5 447.33v8.34M482.33 450.5h8.34M486.5 446.33v8.34M489.33 450.5h8.34M493.5 446.33v8.34M492.33 451.5h8.34M496.5 447.33v8.34M492.33 450.5h8.34M496.5 446.33v8.34M495.33 450.5h8.34M499.5 446.33v8.34M501.33 451.5h8.34M505.5 447.33v8.34M504.33 452.5h8.34M508.5 448.33v8.34M508.33 450.5h8.34M512.5 446.33v8.34M509.33 452.5h8.34M513.5 448.33v8.34M509.33 451.5h8.34M513.5 447.33v8.34M513.33 449.5h8.34M517.5 445.33v8.34M515.33 451.5h8.34M519.5 447.33v8.34M516.33 450.5h8.34M520.5 446.33v8.34M516.33 447.5h8.34M520.5 443.33v8.34M518.33 448.5h8.34M522.5 444.33v8.34M520.33 448.5h8.34M524.5 444.33v8.34M522.33 450.5h8.34M526.5 446.33v8.34M524.33 449.5h8.34M528.5 445.33v8.34M529.33 450.5h8.34M533.5 446.33v8.34M529.33 447.5h8.34M533.5 443.33v8.34M530.33 449.5h8.34M534.5 445.33v8.34M533.33 449.5h8.34M537.5 445.33v8.34M538.33 452.5h8.34M542.5 448.33v8.34M541.33 450.5h8.34M545.5 446.33v8.34M541.33 452.5h8.34M545.5 448.33v8.34M548.33 449.5h8.34M552.5 445.33v8.34M555.33 447.5h8.34M559.5 443.33v8.34M559.33 451.5h8.34M563.5 447.33v8.34M561.33 451.5h8.34M565.5 447.33v8.34M568.33 451.5h8.34M572.5 447.33v8.34M578.33 452.5h8.34M582.5 448.33v8.34M579.33 451.5h8.34M583.5 447.33v8.34M583.33 449.5h8.34M587.5 445.33v8.34M585.33 453.5h8.34M589.5 449.33v8.34M592.33 450.5h8.34M596.5 446.33v8.34M603.33 449.5h8.34M607.5 445.33v8.34M610.33 450.5h8.34M614.5 446.33v8.34M612.33 451.5h8.34M616.5 447.33v8.34M617.33 445.5h8.34M621.5 441.33v8.34M618.33 449.5h8.34M622.5 445.33v8.34M625.33 452.5h8.34M629.5 448.33v8.34M626.33 446.5h8.34M630.5 442.33v8.34M635.33 447.5h8.34M639.5 443.33v8.34M312.33 127.5h8.34M316.5 123.33v8.34M322.33 139.5h8.34M326.5 135.33v8.34M371.33 221.5h8.34M375.5 217.33v8.34M307.33 229.5h8.34M311.5 225.33v8.34M377.33 246.5h8.34M381.5 242.33v8.34M314.33 256.5h8.34M318.5 252.33v8.34M286.33 267.5h8.34M290.5 263.33v8.34M369.33 270.5h8.34M373.5 266.33v8.34M340.33 274.5h8.34M344.5 270.33v8.34M337.33 310.5h8.34M341.5 306.33v8.34M316.33 316.5h8.34M320.5 312.33v8.34M386.33 318.5h8.34M390.5 314.33v8.34M381.33 323.5h8.34M385.5 319.33v8.34M395.33 326.5h8.34M399.5 322.33v8.34M368.33 341.5h8.34M372.5 337.33v8.34M383.33 344.5h8.34M387.5 340.33v8.34M390.33 369.5h8.34M394.5 365.33v8.34M376.33 379.5h8.34M380.5 375.33v8.34M391.33 381.5h8.34M395.5 377.33v8.34M329.33 440.5h8.34M333.5 436.33v8.34M525.33 201.5h8.34M529.5 197.33v8.34M480.33 236.5h8.34M484.5 232.33v8.34M512.33 240.5h8.34M516.5 236.33v8.34M434.33 242.5h8.34M438.5 238.33v8.34M476.33 277.5h8.34M480.5 273.33v8.34M436.33 286.5h8.34M440.5 282.33v8.34M465.33 304.5h8.34M469.5 300.33v8.34M481.33 296.5h8.34M485.5 292.33v8.34M507.33 316.5h8.34M511.5 312.33v8.34M514.33 320.5h8.34M518.5 316.33v8.34M472.33 314.5h8.34M476.5 310.33v8.34M474.33 330.5h8.34M478.5 326.33v8.34M449.33 332.5h8.34M453.5 328.33v8.34M502.33 328.5h8.34M506.5 324.33v8.34M504.33 330.5h8.34M508.5 326.33v8.34M453.33 350.5h8.34M457.5 346.33v8.34M477.33 363.5h8.34M481.5 359.33v8.34M425.33 295.5h8.34M429.5 291.33v8.34M420.33 327.5h8.34M424.5 323.33v8.34M506.33 393.5h8.34M510.5 389.33v8.34M500.33 402.5h8.34M504.5 398.33v8.34M479.33 422.5h8.34M483.5 418.33v8.34M504.33 439.5h8.34M508.5 435.33v8.34M418.33 467.5h8.34M422.5 463.33v8.34M551.33 195.5h8.34M555.5 191.33v8.34M542.33 214.5h8.34M546.5 210.33v8.34M557.33 218.5h8.34M561.5 214.33v8.34M584.33 223.5h8.34M588.5 219.33v8.34M577.33 234.5h8.34M581.5 230.33v8.34M541.33 253.5h8.34M545.5 249.33v8.34M579.33 258.5h8.34M583.5 254.33v8.34M550.33 263.5h8.34M554.5 259.33v8.34M612.33 272.5h8.34M616.5 268.33v8.34M577.33 274.5h8.34M581.5 270.33v8.34M535.33 285.5h8.34M539.5 281.33v8.34M552.33 285.5h8.34M556.5 281.33v8.34M563.33 286.5h8.34M567.5 282.33v8.34M609.33 292.5h8.34M613.5 288.33v8.34M606.33 355.5h8.34M610.5 351.33v8.34M654.33 376.5h8.34M658.5 372.33v8.34M659.33 377.5h8.34M663.5 373.33v8.34M706.33 414.5h8.34M710.5 410.33v8.34M694.33 416.5h8.34M698.5 412.33v8.34M691.33 462.5h8.34M695.5 458.33v8.34M702.33 459.5h8.34M706.5 455.33v8.34M666.33 468.5h8.34M670.5 464.33v8.34M642.33 478.5h8.34M646.5 474.33v8.34M322.33 350.5h8.34M326.5 346.33v8.34M315.33 355.5h8.34M319.5 351.33v8.34M313.33 373.5h8.34M317.5 369.33v8.34M318.33 373.5h8.34M322.5 369.33v8.34M316.33 381.5h8.34M320.5 377.33v8.34M314.33 386.5h8.34M318.5 382.33v8.34M314.33 408.5h8.34M318.5 404.33v8.34M308.33 417.5h8.34M312.5 413.33v8.34M305.33 421.5h8.34M309.5 417.33v8.34M315.33 426.5h8.34M319.5 422.33v8.34"/>
<path class="c" d="M532.33 293.5h8.34M536.5 289.33v8.34M546.33 292.5h8.34M550.5 288.33v8.34M539.33 295.5h8.34M543.5 291.33v8.34M542.33 299.5h8.34M546.5 295.33v8.34M531.33 308.5h8.34M535.5 304.33v8.34M532.33 308.5h8.34M536.5 304.33v8.34M582.33 307.5h8.34M586.5 303.33v8.34M517.33 310.5h8.34M521.5 306.33v8.34M545.33 312.5h8.34M549.5 308.33v8.34M567.33 313.5h8.34M571.5 309.33v8.34M565.33 311.5h8.34M569.5 307.33v8.34M538.33 314.5h8.34M542.5 310.33v8.34M543.33 314.5h8.34M547.5 310.33v8.34M553.33 315.5h8.34M557.5 311.33v8.34M578.33 314.5h8.34M582.5 310.33v8.34M525.33 320.5h8.34M529.5 316.33v8.34M581.33 320.5h8.34M585.5 316.33v8.34M539.33 323.5h8.34M543.5 319.33v8.34M550.33 325.5h8.34M554.5 321.33v8.34M550.33 326.5h8.34M554.5 322.33v8.34M557.33 329.5h8.34M561.5 325.33v8.34M586.33 328.5h8.34M590.5 324.33v8.34M546.33 332.5h8.34M550.5 328.33v8.34M554.33 331.5h8.34M558.5 327.33v8.34M583.33 332.5h8.34M587.5 328.33v8.34M527.33 335.5h8.34M531.5 331.33v8.34M553.33 337.5h8.34M557.5 333.33v8.34M565.33 336.5h8.34M569.5 332.33v8.34M541.33 339.5h8.34M545.5 335.33v8.34M556.33 338.5h8.34M560.5 334.33v8.34M563.33 339.5h8.34M567.5 335.33v8.34M529.33 345.5h8.34M533.5 341.33v8.34M534.33 347.5h8.34M538.5 343.33v8.34M538.33 346.5h8.34M542.5 342.33v8.34M573.33 348.5h8.34M577.5 344.33v8.34M568.33 351.5h8.34M572.5 347.33v8.34M576.33 353.5h8.34M580.5 349.33v8.34M554.33 357.5h8.34M558.5 353.33v8.34M557.33 356.5h8.34M561.5 352.33v8.34M556.33 354.5h8.34M560.5 350.33v8.34M581.33 357.5h8.34M585.5 353.33v8.34M527.33 358.5h8.34M531.5 354.33v8.34M548.33 361.5h8.34M552.5 357.33v8.34M551.33 361.5h8.34M555.5 357.33v8.34M586.33 359.5h8.34M590.5 355.33v8.34M598.33 359.5h8.34M602.5 355.33v8.34M540.33 365.5h8.34M544.5 361.33v8.34M542.33 364.5h8.34M546.5 360.33v8.34M553.33 364.5h8.34M557.5 360.33v8.34M556.33 364.5h8.34M560.5 360.33v8.34M563.33 365.5h8.34M567.5 361.33v8.34M568.33 364.5h8.34M572.5 360.33v8.34M571.33 364.5h8.34M575.5 360.33v8.34M579.33 364.5h8.34M583.5 360.33v8.34M527.33 367.5h8.34M531.5 363.33v8.34M528.33 369.5h8.34M532.5 365.33v8.34M530.33 366.5h8.34M534.5 362.33v8.34M542.33 367.5h8.34M546.5 363.33v8.34M547.33 369.5h8.34M551.5 365.33v8.34M558.33 366.5h8.34M562.5 362.33v8.34M560.33 367.5h8.34M564.5 363.33v8.34M568.33 366.5h8.34M572.5 362.33v8.34M579.33 369.5h8.34M583.5 365.33v8.34M552.33 372.5h8.34M556.5 368.33v8.34M558.33 371.5h8.34M562.5 367.33v8.34M529.33 374.5h8.34M533.5 370.33v8.34M552.33 377.5h8.34M556.5 373.33v8.34M561.33 374.5h8.34M565.5 370.33v8.34M564.33 375.5h8.34M568.5 371.33v8.34M570.33 376.5h8.34M574.5 372.33v8.34M577.33 377.5h8.34M581.5 373.33v8.34M593.33 375.5h8.34M597.5 371.33v8.34M599.33 374.5h8.34M603.5 370.33v8.34M524.33 380.5h8.34M528.5 376.33v8.34M529.33 380.5h8.34M533.5 376.33v8.34M537.33 379.5h8.34M541.5 375.33v8.34M550.33 381.5h8.34M554.5 377.33v8.34M565.33 379.5h8.34M569.5 375.33v8.34M571.33 378.5h8.34M575.5 374.33v8.34M580.33 381.5h8.34M584.5 377.33v8.34M535.33 383.5h8.34M539.5 379.33v8.34M550.33 385.5h8.34M554.5 381.33v8.34M553.33 382.5h8.34M557.5 378.33v8.34M556.33 382.5h8.34M560.5 378.33v8.34M556.33 384.5h8.34M560.5 380.33v8.34M556.33 384.5h8.34M560.5 380.33v8.34M560.33 384.5h8.34M564.5 380.33v8.34M569.33 382.5h8.34M573.5 378.33v8.34M577.33 385.5h8.34M581.5 381.33v8.34M600.33 385.5h8.34M604.5 381.33v8.34M546.33 386.5h8.34M550.5 382.33v8.34M547.33 386.5h8.34M551.5 382.33v8.34M566.33 389.5h8.34M570.5 385.33v8.34M569.33 388.5h8.34M573.5 384.33v8.34M569.33 386.5h8.34M573.5 382.33v8.34M575.33 389.5h8.34M579.5 385.33v8.34M578.33 387.5h8.34M582.5 383.33v8.34M578.33 387.5h8.34M582.5 383.33v8.34M586.33 388.5h8.34M590.5 384.33v8.34M555.33 392.5h8.34M559.5 388.33v8.34M560.33 390.5h8.34M564.5 386.33v8.34M563.33 393.5h8.34M567.5 389.33v8.34M564.33 391.5h8.34M568.5 387.33v8.34M568.33 391.5h8.34M572.5 387.33v8.34M578.33 391.5h8.34M582.5 387.33v8.34M586.33 392.5h8.34M590.5 388.33v8.34M538.33 395.5h8.34M542.5 391.33v8.34M572.33 397.5h8.34M576.5 393.33v8.34M593.33 397.5h8.34M597.5 393.33v8.34M520.33 398.5h8.34M524.5 394.33v8.34M542.33 398.5h8.34M546.5 394.33v8.34M551.33 399.5h8.34M555.5 395.33v8.34M558.33 399.5h8.34M562.5 395.33v8.34M566.33 399.5h8.34M570.5 395.33v8.34M571.33 400.5h8.34M575.5 396.33v8.34M572.33 399.5h8.34M576.5 395.33v8.34M582.33 398.5h8.34M586.5 394.33v8.34M596.33 400.5h8.34M600.5 396.33v8.34M539.33 405.5h8.34M543.5 401.33v8.34M580.33 405.5h8.34M584.5 401.33v8.34M582.33 404.5h8.34M586.5 400.33v8.34M586.33 405.5h8.34M590.5 401.33v8.34M591.33 403.5h8.34M595.5 399.33v8.34M594.33 403.5h8.34M598.5 399.33v8.34M599.33 405.5h8.34M603.5 401.33v8.34M607.33 403.5h8.34M611.5 399.33v8.34M547.33 407.5h8.34M551.5 403.33v8.34M549.33 409.5h8.34M553.5 405.33v8.34M553.33 408.5h8.34M557.5 404.33v8.34M561.33 406.5h8.34M565.5 402.33v8.34M567.33 409.5h8.34M571.5 405.33v8.34M571.33 407.5h8.34M575.5 403.33v8.34M571.33 406.5h8.34M575.5 402.33v8.34M577.33 408.5h8.34M581.5 404.33v8.34M582.33 408.5h8.34M586.5 404.33v8.34M580.33 408.5h8.34M584.5 404.33v8.34M590.33 406.5h8.34M594.5 402.33v8.34M591.33 409.5h8.34M595.5 405.33v8.34M639.33 409.5h8.34M643.5 405.33v8.34M526.33 412.5h8.34M530.5 408.33v8.34M543.33 411.5h8.34M547.5 407.33v8.34M540.33 412.5h8.34M544.5 408.33v8.34M561.33 410.5h8.34M565.5 406.33v8.34M576.33 411.5h8.34M580.5 407.33v8.34M603.33 410.5h8.34M607.5 406.33v8.34M606.33 412.5h8.34M610.5 408.33v8.34M552.33 414.5h8.34M556.5 410.33v8.34M570.33 416.5h8.34M574.5 412.33v8.34M583.33 414.5h8.34M587.5 410.33v8.34M589.33 415.5h8.34M593.5 411.33v8.34M597.33 417.5h8.34M601.5 413.33v8.34M597.33 416.5h8.34M601.5 412.33v8.34M524.33 419.5h8.34M528.5 415.33v8.34M549.33 421.5h8.34M553.5 417.33v8.34M549.33 418.5h8.34M553.5 414.33v8.34M556.33 421.5h8.34M560.5 417.33v8.34M556.33 421.5h8.34M560.5 417.33v8.34M576.33 418.5h8.34M580.5 414.33v8.34M580.33 421.5h8.34M584.5 417.33v8.34M591.33 420.5h8.34M595.5 416.33v8.34M597.33 421.5h8.34M601.5 417.33v8.34M597.33 419.5h8.34M601.5 415.33v8.34M601.33 421.5h8.34M605.5 417.33v8.34M632.33 419.5h8.34M636.5 415.33v8.34M641.33 419.5h8.34M645.5 415.33v8.34M544.33 425.5h8.34M548.5 421.33v8.34M551.33 423.5h8.34M555.5 419.33v8.34M549.33 425.5h8.34M553.5 421.33v8.34M556.33 425.5h8.34M560.5 421.33v8.34M568.33 424.5h8.34M572.5 420.33v8.34M575.33 422.5h8.34M579.5 418.33v8.34M618.33 422.5h8.34M622.5 418.33v8.34M641.33 425.5h8.34M645.5 421.33v8.34M651.33 424.5h8.34M655.5 420.33v8.34M523.33 426.5h8.34M527.5 422.33v8.34M526.33 427.5h8.34M530.5 423.33v8.34M524.33 427.5h8.34M528.5 423.33v8.34M550.33 426.5h8.34M554.5 422.33v8.34M564.33 427.5h8.34M568.5 423.33v8.34M571.33 427.5h8.34M575.5 423.33v8.34M589.33 426.5h8.34M593.5 422.33v8.34M594.33 428.5h8.34M598.5 424.33v8.34M607.33 427.5h8.34M611.5 423.33v8.34M616.33 428.5h8.34M620.5 424.33v8.34M627.33 428.5h8.34M631.5 424.33v8.34M635.33 429.5h8.34M639.5 425.33v8.34M651.33 427.5h8.34M655.5 423.33v8.34M655.33 429.5h8.34M659.5 425.33v8.34M532.33 430.5h8.34M536.5 426.33v8.34M538.33 431.5h8.34M542.5 427.33v8.34M556.33 431.5h8.34M560.5 427.33v8.34M573.33 432.5h8.34M577.5 428.33v8.34M582.33 431.5h8.34M586.5 427.33v8.34M596.33 432.5h8.34M600.5 428.33v8.34M600.33 431.5h8.34M604.5 427.33v8.34M601.33 430.5h8.34M605.5 426.33v8.34M604.33 431.5h8.34M608.5 427.33v8.34M634.33 433.5h8.34M638.5 429.33v8.34M640.33 432.5h8.34M644.5 428.33v8.34M669.33 430.5h8.34M673.5 426.33v8.34M521.33 437.5h8.34M525.5 433.33v8.34M541.33 436.5h8.34M545.5 432.33v8.34M555.33 436.5h8.34M559.5 432.33v8.34M574.33 437.5h8.34M578.5 433.33v8.34M599.33 434.5h8.34M603.5 430.33v8.34M603.33 437.5h8.34M607.5 433.33v8.34M609.33 437.5h8.34M613.5 433.33v8.34M625.33 435.5h8.34M629.5 431.33v8.34M629.33 435.5h8.34M633.5 431.33v8.34M633.33 435.5h8.34M637.5 431.33v8.34M536.33 439.5h8.34M540.5 435.33v8.34M545.33 438.5h8.34M549.5 434.33v8.34M553.33 438.5h8.34M557.5 434.33v8.34M561.33 439.5h8.34M565.5 435.33v8.34M565.33 439.5h8.34M569.5 435.33v8.34M566.33 440.5h8.34M570.5 436.33v8.34M576.33 438.5h8.34M580.5 434.33v8.34M577.33 440.5h8.34M581.5 436.33v8.34M588.33 440.5h8.34M592.5 436.33v8.34M594.33 440.5h8.34M598.5 436.33v8.34M607.33 438.5h8.34M611.5 434.33v8.34M608.33 439.5h8.34M612.5 435.33v8.34M615.33 441.5h8.34M619.5 437.33v8.34M655.33 438.5h8.34M659.5 434.33v8.34M569.33 443.5h8.34M573.5 439.33v8.34M570.33 445.5h8.34M574.5 441.33v8.34M577.33 442.5h8.34M581.5 438.33v8.34M588.33 442.5h8.34M592.5 438.33v8.34M601.33 443.5h8.34M605.5 439.33v8.34M601.33 445.5h8.34M605.5 441.33v8.34M634.33 444.5h8.34M638.5 440.33v8.34M647.33 442.5h8.34M651.5 438.33v8.34M539.33 447.5h8.34M543.5 443.33v8.34M545.33 447.5h8.34M549.5 443.33v8.34M547.33 448.5h8.34M551.5 444.33v8.34M553.33 446.5h8.34M557.5 442.33v8.34M570.33 448.5h8.34M574.5 444.33v8.34M579.33 447.5h8.34M583.5 443.33v8.34M578.33 446.5h8.34M582.5 442.33v8.34M578.33 448.5h8.34M582.5 444.33v8.34M592.33 447.5h8.34M596.5 443.33v8.34M627.33 448.5h8.34M631.5 444.33v8.34M642.33 449.5h8.34M646.5 445.33v8.34M651.33 446.5h8.34M655.5 442.33v8.34M519.33 450.5h8.34M523.5 446.33v8.34M537.33 453.5h8.34M541.5 449.33v8.34M546.33 452.5h8.34M550.5 448.33v8.34M577.33 452.5h8.34M581.5 448.33v8.34M582.33 451.5h8.34M586.5 447.33v8.34M581.33 450.5h8.34M585.5 446.33v8.34M605.33 451.5h8.34M609.5 447.33v8.34M613.33 451.5h8.34M617.5 447.33v8.34M616.33 453.5h8.34M620.5 449.33v8.34M619.33 453.5h8.34M623.5 449.33v8.34M622.33 452.5h8.34M626.5 448.33v8.34M630.33 451.5h8.34M634.5 447.33v8.34M629.33 450.5h8.34M633.5 446.33v8.34M634.33 450.5h8.34M638.5 446.33v8.34M649.33 453.5h8.34M653.5 449.33v8.34M590.33 455.5h8.34M594.5 451.33v8.34M618.33 461.5h8.34M622.5 457.33v8.34M654.33 459.5h8.34M658.5 455.33v8.34M599.33 463.5h8.34M603.5 459.33v8.34M598.33 462.5h8.34M602.5 458.33v8.34M604.33 463.5h8.34M608.5 459.33v8.34M609.33 464.5h8.34M613.5 460.33v8.34M619.33 463.5h8.34M623.5 459.33v8.34M640.33 463.5h8.34M644.5 459.33v8.34M649.33 463.5h8.34M653.5 459.33v8.34M637.33 466.5h8.34M641.5 462.33v8.34M315.33 450.5h8.34M319.5 446.33v8.34M317.33 450.5h8.34M321.5 446.33v8.34M323.33 449.5h8.34M327.5 445.33v8.34M324.33 449.5h8.34M328.5 445.33v8.34M325.33 449.5h8.34M329.5 445.33v8.34M329.33 450.5h8.34M333.5 446.33v8.34M330.33 451.5h8.34M334.5 447.33v8.34M331.33 450.5h8.34M335.5 446.33v8.34M337.33 449.5h8.34M341.5 445.33v8.34M338.33 450.5h8.34M342.5 446.33v8.34M344.33 448.5h8.34M348.5 444.33v8.34M345.33 450.5h8.34M349.5 446.33v8.34M345.33 450.5h8.34M349.5 446.33v8.34M345.33 450.5h8.34M349.5 446.33v8.34M348.33 450.5h8.34M352.5 446.33v8.34M348.33 451.5h8.34M352.5 447.33v8.34M353.33 451.5h8.34M357.5 447.33v8.34M368.33 448.5h8.34M372.5 444.33v8.34M375.33 451.5h8.34M379.5 447.33v8.34M376.33 449.5h8.34M380.5 445.33v8.34M389.33 451.5h8.34M393.5 447.33v8.34M389.33 449.5h8.34M393.5 445.33v8.34M396.33 449.5h8.34M400.5 445.33v8.34M399.33 451.5h8.34M403.5 447.33v8.34M401.33 450.5h8.34M405.5 446.33v8.34M405.33 449.5h8.34M409.5 445.33v8.34M406.33 450.5h8.34M410.5 446.33v8.34M407.33 450.5h8.34M411.5 446.33v8.34M421.33 450.5h8.34M425.5 446.33v8.34M427.33 451.5h8.34M431.5 447.33v8.34M427.33 450.5h8.34M431.5 446.33v8.34M427.33 451.5h8.34M431.5 447.33v8.34M432.33 449.5h8.34M436.5 445.33v8.34M436.33 451.5h8.34M440.5 447.33v8.34M437.33 450.5h8.34M441.5 446.33v8.34M438.33 449.5h8.34M442.5 445.33v8.34M445.33 450.5h8.34M449.5 446.33v8.34M446.33 449.5h8.34M450.5 445.33v8.34M446.33 450.5h8.34M450.5 446.33v8.34M452.33 451.5h8.34M456.5 447.33v8.34M454.33 448.5h8.34M458.5 444.33v8.34M458.33 451.5h8.34M462.5 447.33v8.34M459.33 450.5h8.34M463.5 446.33v8.34M466.33 449.5h8.34M470.5 445.33v8.34M478.33 449.5h8.34M482.5 445.33v8.34M481.33 446.5h8.34M485.5 442.33v8.34M482.33 450.5h8.34M486.5 446.33v8.34M483.33 451.5h8.34M487.5 447.33v8.34M487.33 449.5h8.34M491.5 445.33v8.34M497.33 448.5h8.34M501.5 444.33v8.34M507.33 449.5h8.34M511.5 445.33v8.34M508.33 450.5h8.34M512.5 446.33v8.34M512.33 450.5h8.34M516.5 446.33v8.34M521.33 451.5h8.34M525.5 447.33v8.34M524.33 450.5h8.34M528.5 446.33v8.34M529.33 453.5h8.34M533.5 449.33v8.34M529.33 447.5h8.34M533.5 443.33v8.34M533.33 450.5h8.34M537.5 446.33v8.34M537.33 450.5h8.34M541.5 446.33v8.34M540.33 453.5h8.34M544.5 449.33v8.34M545.33 447.5h8.34M549.5 443.33v8.34M548.33 452.5h8.34M552.5 448.33v8.34M550.33 452.5h8.34M554.5 448.33v8.34M551.33 446.5h8.34M555.5 442.33v8.34M552.33 446.5h8.34M556.5 442.33v8.34M559.33 448.5h8.34M563.5 444.33v8.34M564.33 448.5h8.34M568.5 444.33v8.34M566.33 450.5h8.34M570.5 446.33v8.34M569.33 448.5h8.34M573.5 444.33v8.34M569.33 450.5h8.34M573.5 446.33v8.34M570.33 451.5h8.34M574.5 447.33v8.34M578.33 448.5h8.34M582.5 444.33v8.34M580.33 453.5h8.34M584.5 449.33v8.34M583.33 448.5h8.34M587.5 444.33v8.34M584.33 450.5h8.34M588.5 446.33v8.34M585.33 450.5h8.34M589.5 446.33v8.34M586.33 451.5h8.34M590.5 447.33v8.34M592.33 453.5h8.34M596.5 449.33v8.34M594.33 449.5h8.34M598.5 445.33v8.34M596.33 449.5h8.34M600.5 445.33v8.34M598.33 451.5h8.34M602.5 447.33v8.34M603.33 447.5h8.34M607.5 443.33v8.34M603.33 449.5h8.34M607.5 445.33v8.34M604.33 447.5h8.34M608.5 443.33v8.34M606.33 449.5h8.34M610.5 445.33v8.34M613.33 449.5h8.34M617.5 445.33v8.34M614.33 450.5h8.34M618.5 446.33v8.34M615.33 451.5h8.34M619.5 447.33v8.34M619.33 450.5h8.34M623.5 446.33v8.34M622.33 452.5h8.34M626.5 448.33v8.34M623.33 448.5h8.34M627.5 444.33v8.34M623.33 450.5h8.34M627.5 446.33v8.34M626.33 447.5h8.34M630.5 443.33v8.34M627.33 450.5h8.34M631.5 446.33v8.34M635.33 449.5h8.34M639.5 445.33v8.34M637.33 451.5h8.34M641.5 447.33v8.34M651.33 447.5h8.34M655.5 443.33v8.34M651.33 448.5h8.34M655.5 444.33v8.34M656.33 449.5h8.34M660.5 445.33v8.34M316.33 121.5h8.34M320.5 117.33v8.34M306.33 219.5h8.34M310.5 215.33v8.34M346.33 219.5h8.34M350.5 215.33v8.34M377.33 237.5h8.34M381.5 233.33v8.34M311.33 247.5h8.34M315.5 243.33v8.34M357.33 261.5h8.34M361.5 257.33v8.34M372.33 295.5h8.34M376.5 291.33v8.34M360.33 301.5h8.34M364.5 297.33v8.34M321.33 303.5h8.34M325.5 299.33v8.34M372.33 312.5h8.34M376.5 308.33v8.34M346.33 321.5h8.34M350.5 317.33v8.34M389.33 326.5h8.34M393.5 322.33v8.34M378.33 328.5h8.34M382.5 324.33v8.34M343.33 335.5h8.34M347.5 331.33v8.34M349.33 347.5h8.34M353.5 343.33v8.34M286.33 365.5h8.34M290.5 361.33v8.34M368.33 363.5h8.34M372.5 359.33v8.34M358.33 366.5h8.34M362.5 362.33v8.34M359.33 373.5h8.34M363.5 369.33v8.34M370.33 375.5h8.34M374.5 371.33v8.34M381.33 364.5h8.34M385.5 360.33v8.34M505.33 215.5h8.34M509.5 211.33v8.34M506.33 228.5h8.34M510.5 224.33v8.34M511.33 242.5h8.34M515.5 238.33v8.34M525.33 238.5h8.34M529.5 234.33v8.34M514.33 264.5h8.34M518.5 260.33v8.34M456.33 273.5h8.34M460.5 269.33v8.34M503.33 274.5h8.34M507.5 270.33v8.34M517.33 275.5h8.34M521.5 271.33v8.34M511.33 280.5h8.34M515.5 276.33v8.34M506.33 304.5h8.34M510.5 300.33v8.34M477.33 336.5h8.34M481.5 332.33v8.34M486.33 352.5h8.34M490.5 348.33v8.34M498.33 357.5h8.34M502.5 353.33v8.34M462.33 376.5h8.34M466.5 372.33v8.34M429.33 386.5h8.34M433.5 382.33v8.34M401.33 367.5h8.34M405.5 363.33v8.34M460.33 392.5h8.34M464.5 388.33v8.34M493.33 396.5h8.34M497.5 392.33v8.34M459.33 458.5h8.34M463.5 454.33v8.34M540.33 194.5h8.34M544.5 190.33v8.34M557.33 194.5h8.34M561.5 190.33v8.34M582.33 193.5h8.34M586.5 189.33v8.34M537.33 205.5h8.34M541.5 201.33v8.34M552.33 201.5h8.34M556.5 197.33v8.34M579.33 202.5h8.34M583.5 198.33v8.34M574.33 208.5h8.34M578.5 204.33v8.34M629.33 242.5h8.34M633.5 238.33v8.34M547.33 247.5h8.34M551.5 243.33v8.34M539.33 256.5h8.34M543.5 252.33v8.34M626.33 271.5h8.34M630.5 267.33v8.34M546.33 288.5h8.34M550.5 284.33v8.34M635.33 392.5h8.34M639.5 388.33v8.34M688.33 409.5h8.34M692.5 405.33v8.34M709.33 428.5h8.34M713.5 424.33v8.34M714.33 445.5h8.34M718.5 441.33v8.34M705.33 462.5h8.34M709.5 458.33v8.34M697.33 465.5h8.34M701.5 461.33v8.34M685.33 469.5h8.34M689.5 465.33v8.34M316.33 350.5h8.34M320.5 346.33v8.34M314.33 354.5h8.34M318.5 350.33v8.34M313.33 356.5h8.34M317.5 352.33v8.34M306.33 362.5h8.34M310.5 358.33v8.34M306.33 379.5h8.34M310.5 375.33v8.34M321.33 380.5h8.34M325.5 376.33v8.34M321.33 385.5h8.34M325.5 381.33v8.34M315.33 387.5h8.34M319.5 383.33v8.34M319.33 396.5h8.34M323.5 392.33v8.34M319.33 403.5h8.34M323.5 399.33v8.34M304.33 416.5h8.34M308.5 412.33v8.34M307.33 420.5h8.34M311.5 416.33v8.34M318.33 422.5h8.34M322.5 418.33v8.34M317.33 441.5h8.34M321.5 437.33v8.34M584.33 73.5h8.34M588.5 69.33v8.34M600.33 69.5h8.34M604.5 65.33v8.34"/>
<path class="c" d="M563.33 291.5h8.34M567.5 287.33v8.34M536.33 295.5h8.34M540.5 291.33v8.34M542.33 295.5h8.34M546.5 291.33v8.34M534.33 300.5h8.34M538.5 296.33v8.34M547.33 299.5h8.34M551.5 295.33v8.34M532.33 302.5h8.34M536.5 298.33v8.34M568.33 306.5h8.34M572.5 302.33v8.34M529.33 310.5h8.34M533.5 306.33v8.34M586.33 315.5h8.34M590.5 311.33v8.34M546.33 319.5h8.34M550.5 315.33v8.34M548.33 318.5h8.34M552.5 314.33v8.34M537.33 324.5h8.34M541.5 320.33v8.34M545.33 323.5h8.34M549.5 319.33v8.34M557.33 324.5h8.34M561.5 320.33v8.34M575.33 323.5h8.34M579.5 319.33v8.34M545.33 327.5h8.34M549.5 323.33v8.34M533.33 333.5h8.34M537.5 329.33v8.34M561.33 332.5h8.34M565.5 328.33v8.34M546.33 344.5h8.34M550.5 340.33v8.34M575.33 343.5h8.34M579.5 339.33v8.34M536.33 346.5h8.34M540.5 342.33v8.34M549.33 346.5h8.34M553.5 342.33v8.34M565.33 347.5h8.34M569.5 343.33v8.34M532.33 352.5h8.34M536.5 348.33v8.34M564.33 353.5h8.34M568.5 349.33v8.34M571.33 351.5h8.34M575.5 347.33v8.34M523.33 357.5h8.34M527.5 353.33v8.34M546.33 356.5h8.34M550.5 352.33v8.34M548.33 357.5h8.34M552.5 353.33v8.34M559.33 356.5h8.34M563.5 352.33v8.34M561.33 355.5h8.34M565.5 351.33v8.34M563.33 355.5h8.34M567.5 351.33v8.34M570.33 356.5h8.34M574.5 352.33v8.34M583.33 354.5h8.34M587.5 350.33v8.34M596.33 354.5h8.34M600.5 350.33v8.34M543.33 365.5h8.34M547.5 361.33v8.34M559.33 365.5h8.34M563.5 361.33v8.34M574.33 363.5h8.34M578.5 359.33v8.34M544.33 367.5h8.34M548.5 363.33v8.34M557.33 366.5h8.34M561.5 362.33v8.34M569.33 367.5h8.34M573.5 363.33v8.34M541.33 372.5h8.34M545.5 368.33v8.34M554.33 372.5h8.34M558.5 368.33v8.34M560.33 372.5h8.34M564.5 368.33v8.34M596.33 372.5h8.34M600.5 368.33v8.34M542.33 376.5h8.34M546.5 372.33v8.34M546.33 376.5h8.34M550.5 372.33v8.34M548.33 376.5h8.34M552.5 372.33v8.34M553.33 375.5h8.34M557.5 371.33v8.34M564.33 376.5h8.34M568.5 372.33v8.34M569.33 375.5h8.34M573.5 371.33v8.34M541.33 378.5h8.34M545.5 374.33v8.34M540.33 380.5h8.34M544.5 376.33v8.34M549.33 380.5h8.34M553.5 376.33v8.34M557.33 378.5h8.34M561.5 374.33v8.34M562.33 381.5h8.34M566.5 377.33v8.34M568.33 381.5h8.34M572.5 377.33v8.34M585.33 381.5h8.34M589.5 377.33v8.34M594.33 378.5h8.34M598.5 374.33v8.34M597.33 380.5h8.34M601.5 376.33v8.34M608.33 379.5h8.34M612.5 375.33v8.34M536.33 385.5h8.34M540.5 381.33v8.34M541.33 382.5h8.34M545.5 378.33v8.34M542.33 383.5h8.34M546.5 379.33v8.34M556.33 385.5h8.34M560.5 381.33v8.34M559.33 383.5h8.34M563.5 379.33v8.34M559.33 382.5h8.34M563.5 378.33v8.34M562.33 382.5h8.34M566.5 378.33v8.34M565.33 383.5h8.34M569.5 379.33v8.34M574.33 383.5h8.34M578.5 379.33v8.34M573.33 384.5h8.34M577.5 380.33v8.34M586.33 384.5h8.34M590.5 380.33v8.34M595.33 384.5h8.34M599.5 380.33v8.34M547.33 386.5h8.34M551.5 382.33v8.34M554.33 386.5h8.34M558.5 382.33v8.34M575.33 388.5h8.34M579.5 384.33v8.34M587.33 388.5h8.34M591.5 384.33v8.34M597.33 389.5h8.34M601.5 385.33v8.34M598.33 387.5h8.34M602.5 383.33v8.34M539.33 391.5h8.34M543.5 387.33v8.34M541.33 390.5h8.34M545.5 386.33v8.34M540.33 392.5h8.34M544.5 388.33v8.34M542.33 391.5h8.34M546.5 387.33v8.34M556.33 392.5h8.34M560.5 388.33v8.34M562.33 392.5h8.34M566.5 388.33v8.34M563.33 393.5h8.34M567.5 389.33v8.34M569.33 393.5h8.34M573.5 389.33v8.34M571.33 391.5h8.34M575.5 387.33v8.34M572.33 392.5h8.34M576.5 388.33v8.34M590.33 392.5h8.34M594.5 388.33v8.34M588.33 393.5h8.34M592.5 389.33v8.34M592.33 393.5h8.34M596.5 389.33v8.34M541.33 397.5h8.34M545.5 393.33v8.34M552.33 397.5h8.34M556.5 393.33v8.34M569.33 394.5h8.34M573.5 390.33v8.34M590.33 396.5h8.34M594.5 392.33v8.34M588.33 397.5h8.34M592.5 393.33v8.34M606.33 394.5h8.34M610.5 390.33v8.34M617.33 397.5h8.34M621.5 393.33v8.34M580.33 401.5h8.34M584.5 397.33v8.34M588.33 400.5h8.34M592.5 396.33v8.34M516.33 405.5h8.34M520.5 401.33v8.34M531.33 403.5h8.34M535.5 399.33v8.34M534.33 403.5h8.34M538.5 399.33v8.34M539.33 402.5h8.34M543.5 398.33v8.34M555.33 404.5h8.34M559.5 400.33v8.34M558.33 405.5h8.34M562.5 401.33v8.34M574.33 403.5h8.34M578.5 399.33v8.34M582.33 402.5h8.34M586.5 398.33v8.34M588.33 402.5h8.34M592.5 398.33v8.34M590.33 405.5h8.34M594.5 401.33v8.34M598.33 403.5h8.34M602.5 399.33v8.34M631.33 403.5h8.34M635.5 399.33v8.34M532.33 408.5h8.34M536.5 404.33v8.34M538.33 406.5h8.34M542.5 402.33v8.34M547.33 408.5h8.34M551.5 404.33v8.34M544.33 407.5h8.34M548.5 403.33v8.34M549.33 408.5h8.34M553.5 404.33v8.34M554.33 409.5h8.34M558.5 405.33v8.34M553.33 406.5h8.34M557.5 402.33v8.34M563.33 409.5h8.34M567.5 405.33v8.34M565.33 406.5h8.34M569.5 402.33v8.34M578.33 408.5h8.34M582.5 404.33v8.34M585.33 406.5h8.34M589.5 402.33v8.34M585.33 407.5h8.34M589.5 403.33v8.34M591.33 406.5h8.34M595.5 402.33v8.34M615.33 409.5h8.34M619.5 405.33v8.34M530.33 410.5h8.34M534.5 406.33v8.34M547.33 412.5h8.34M551.5 408.33v8.34M559.33 411.5h8.34M563.5 407.33v8.34M560.33 411.5h8.34M564.5 407.33v8.34M566.33 410.5h8.34M570.5 406.33v8.34M566.33 413.5h8.34M570.5 409.33v8.34M583.33 412.5h8.34M587.5 408.33v8.34M584.33 413.5h8.34M588.5 409.33v8.34M592.33 410.5h8.34M596.5 406.33v8.34M595.33 410.5h8.34M599.5 406.33v8.34M600.33 410.5h8.34M604.5 406.33v8.34M605.33 410.5h8.34M609.5 406.33v8.34M529.33 417.5h8.34M533.5 413.33v8.34M565.33 416.5h8.34M569.5 412.33v8.34M568.33 415.5h8.34M572.5 411.33v8.34M570.33 416.5h8.34M574.5 412.33v8.34M569.33 415.5h8.34M573.5 411.33v8.34M584.33 417.5h8.34M588.5 413.33v8.34M592.33 416.5h8.34M596.5 412.33v8.34M599.33 416.5h8.34M603.5 412.33v8.34M612.33 417.5h8.34M616.5 413.33v8.34M635.33 414.5h8.34M639.5 410.33v8.34M542.33 421.5h8.34M546.5 417.33v8.34M556.33 420.5h8.34M560.5 416.33v8.34M556.33 420.5h8.34M560.5 416.33v8.34M565.33 421.5h8.34M569.5 417.33v8.34M579.33 418.5h8.34M583.5 414.33v8.34M582.33 418.5h8.34M586.5 414.33v8.34M599.33 419.5h8.34M603.5 415.33v8.34M636.33 421.5h8.34M640.5 417.33v8.34M537.33 425.5h8.34M541.5 421.33v8.34M561.33 422.5h8.34M565.5 418.33v8.34M561.33 423.5h8.34M565.5 419.33v8.34M564.33 425.5h8.34M568.5 421.33v8.34M574.33 423.5h8.34M578.5 419.33v8.34M577.33 422.5h8.34M581.5 418.33v8.34M577.33 425.5h8.34M581.5 421.33v8.34M581.33 423.5h8.34M585.5 419.33v8.34M589.33 424.5h8.34M593.5 420.33v8.34M592.33 425.5h8.34M596.5 421.33v8.34M597.33 422.5h8.34M601.5 418.33v8.34M613.33 425.5h8.34M617.5 421.33v8.34M616.33 423.5h8.34M620.5 419.33v8.34M618.33 422.5h8.34M622.5 418.33v8.34M540.33 426.5h8.34M544.5 422.33v8.34M544.33 429.5h8.34M548.5 425.33v8.34M559.33 427.5h8.34M563.5 423.33v8.34M557.33 429.5h8.34M561.5 425.33v8.34M562.33 429.5h8.34M566.5 425.33v8.34M570.33 428.5h8.34M574.5 424.33v8.34M571.33 429.5h8.34M575.5 425.33v8.34M574.33 427.5h8.34M578.5 423.33v8.34M585.33 427.5h8.34M589.5 423.33v8.34M595.33 428.5h8.34M599.5 424.33v8.34M595.33 428.5h8.34M599.5 424.33v8.34M599.33 426.5h8.34M603.5 422.33v8.34M597.33 426.5h8.34M601.5 422.33v8.34M604.33 428.5h8.34M608.5 424.33v8.34M651.33 427.5h8.34M655.5 423.33v8.34M550.33 432.5h8.34M554.5 428.33v8.34M558.33 430.5h8.34M562.5 426.33v8.34M557.33 431.5h8.34M561.5 427.33v8.34M563.33 432.5h8.34M567.5 428.33v8.34M567.33 430.5h8.34M571.5 426.33v8.34M577.33 433.5h8.34M581.5 429.33v8.34M610.33 430.5h8.34M614.5 426.33v8.34M622.33 433.5h8.34M626.5 429.33v8.34M627.33 431.5h8.34M631.5 427.33v8.34M625.33 430.5h8.34M629.5 426.33v8.34M624.33 433.5h8.34M628.5 429.33v8.34M636.33 432.5h8.34M640.5 428.33v8.34M677.33 433.5h8.34M681.5 429.33v8.34M534.33 436.5h8.34M538.5 432.33v8.34M562.33 437.5h8.34M566.5 433.33v8.34M575.33 437.5h8.34M579.5 433.33v8.34M572.33 434.5h8.34M576.5 430.33v8.34M577.33 436.5h8.34M581.5 432.33v8.34M608.33 435.5h8.34M612.5 431.33v8.34M633.33 435.5h8.34M637.5 431.33v8.34M647.33 437.5h8.34M651.5 433.33v8.34M672.33 435.5h8.34M676.5 431.33v8.34M679.33 435.5h8.34M683.5 431.33v8.34M540.33 439.5h8.34M544.5 435.33v8.34M543.33 440.5h8.34M547.5 436.33v8.34M552.33 438.5h8.34M556.5 434.33v8.34M562.33 440.5h8.34M566.5 436.33v8.34M567.33 439.5h8.34M571.5 435.33v8.34M569.33 438.5h8.34M573.5 434.33v8.34M579.33 439.5h8.34M583.5 435.33v8.34M585.33 440.5h8.34M589.5 436.33v8.34M585.33 438.5h8.34M589.5 434.33v8.34M599.33 441.5h8.34M603.5 437.33v8.34M598.33 441.5h8.34M602.5 437.33v8.34M602.33 439.5h8.34M606.5 435.33v8.34M601.33 440.5h8.34M605.5 436.33v8.34M616.33 439.5h8.34M620.5 435.33v8.34M627.33 441.5h8.34M631.5 437.33v8.34M637.33 439.5h8.34M641.5 435.33v8.34M640.33 440.5h8.34M644.5 436.33v8.34M673.33 438.5h8.34M677.5 434.33v8.34M538.33 445.5h8.34M542.5 441.33v8.34M536.33 444.5h8.34M540.5 440.33v8.34M558.33 442.5h8.34M562.5 438.33v8.34M557.33 443.5h8.34M561.5 439.33v8.34M562.33 443.5h8.34M566.5 439.33v8.34M562.33 443.5h8.34M566.5 439.33v8.34M572.33 442.5h8.34M576.5 438.33v8.34M581.33 444.5h8.34M585.5 440.33v8.34M586.33 443.5h8.34M590.5 439.33v8.34M588.33 444.5h8.34M592.5 440.33v8.34M618.33 444.5h8.34M622.5 440.33v8.34M619.33 445.5h8.34M623.5 441.33v8.34M620.33 445.5h8.34M624.5 441.33v8.34M634.33 444.5h8.34M638.5 440.33v8.34M637.33 445.5h8.34M641.5 441.33v8.34M642.33 442.5h8.34M646.5 438.33v8.34M537.33 447.5h8.34M541.5 443.33v8.34M574.33 449.5h8.34M578.5 445.33v8.34M579.33 446.5h8.34M583.5 442.33v8.34M584.33 447.5h8.34M588.5 443.33v8.34M601.33 447.5h8.34M605.5 443.33v8.34M607.33 448.5h8.34M611.5 444.33v8.34M612.33 447.5h8.34M616.5 443.33v8.34M640.33 447.5h8.34M644.5 443.33v8.34M656.33 448.5h8.34M660.5 444.33v8.34M661.33 446.5h8.34M665.5 442.33v8.34M541.33 451.5h8.34M545.5 447.33v8.34M542.33 453.5h8.34M546.5 449.33v8.34M559.33 453.5h8.34M563.5 449.33v8.34M575.33 451.5h8.34M579.5 447.33v8.34M581.33 452.5h8.34M585.5 448.33v8.34M580.33 451.5h8.34M584.5 447.33v8.34M590.33 452.5h8.34M594.5 448.33v8.34M601.33 453.5h8.34M605.5 449.33v8.34M624.33 450.5h8.34M628.5 446.33v8.34M634.33 450.5h8.34M638.5 446.33v8.34M653.33 450.5h8.34M657.5 446.33v8.34M594.33 457.5h8.34M598.5 453.33v8.34M607.33 455.5h8.34M611.5 451.33v8.34M627.33 457.5h8.34M631.5 453.33v8.34M627.33 456.5h8.34M631.5 452.33v8.34M639.33 456.5h8.34M643.5 452.33v8.34M619.33 458.5h8.34M623.5 454.33v8.34M597.33 464.5h8.34M601.5 460.33v8.34M606.33 463.5h8.34M610.5 459.33v8.34M631.33 464.5h8.34M635.5 460.33v8.34M631.33 465.5h8.34M635.5 461.33v8.34M634.33 462.5h8.34M638.5 458.33v8.34M607.33 468.5h8.34M611.5 464.33v8.34M610.33 473.5h8.34M614.5 469.33v8.34M605.33 478.5h8.34M609.5 474.33v8.34M309.33 450.5h8.34M313.5 446.33v8.34M310.33 450.5h8.34M314.5 446.33v8.34M314.33 451.5h8.34M318.5 447.33v8.34M316.33 449.5h8.34M320.5 445.33v8.34M318.33 449.5h8.34M322.5 445.33v8.34M323.33 450.5h8.34M327.5 446.33v8.34M330.33 450.5h8.34M334.5 446.33v8.34M331.33 450.5h8.34M335.5 446.33v8.34M341.33 449.5h8.34M345.5 445.33v8.34M345.33 450.5h8.34M349.5 446.33v8.34M352.33 451.5h8.34M356.5 447.33v8.34M352.33 449.5h8.34M356.5 445.33v8.34M358.33 450.5h8.34M362.5 446.33v8.34M359.33 450.5h8.34M363.5 446.33v8.34M362.33 451.5h8.34M366.5 447.33v8.34M365.33 449.5h8.34M369.5 445.33v8.34M377.33 449.5h8.34M381.5 445.33v8.34M378.33 448.5h8.34M382.5 444.33v8.34M384.33 450.5h8.34M388.5 446.33v8.34M386.33 449.5h8.34M390.5 445.33v8.34M390.33 450.5h8.34M394.5 446.33v8.34M390.33 449.5h8.34M394.5 445.33v8.34M394.33 449.5h8.34M398.5 445.33v8.34M400.33 449.5h8.34M404.5 445.33v8.34M402.33 449.5h8.34M406.5 445.33v8.34M408.33 449.5h8.34M412.5 445.33v8.34M409.33 450.5h8.34M413.5 446.33v8.34M411.33 450.5h8.34M415.5 446.33v8.34M414.33 450.5h8.34M418.5 446.33v8.34M419.33 450.5h8.34M423.5 446.33v8.34M421.33 451.5h8.34M425.5 447.33v8.34M423.33 449.5h8.34M427.5 445.33v8.34M426.33 451.5h8.34M430.5 447.33v8.34M435.33 449.5h8.34M439.5 445.33v8.34M436.33 450.5h8.34M440.5 446.33v8.34M445.33 450.5h8.34M449.5 446.33v8.34M445.33 450.5h8.34M449.5 446.33v8.34M449.33 450.5h8.34M453.5 446.33v8.34M453.33 451.5h8.34M457.5 447.33v8.34M455.33 450.5h8.34M459.5 446.33v8.34M457.33 449.5h8.34M461.5 445.33v8.34M463.33 450.5h8.34M467.5 446.33v8.34M465.33 450.5h8.34M469.5 446.33v8.34M465.33 449.5h8.34M469.5 445.33v8.34M468.33 450.5h8.34M472.5 446.33v8.34M475.33 450.5h8.34M479.5 446.33v8.34M476.33 447.5h8.34M480.5 443.33v8.34M476.33 449.5h8.34M480.5 445.33v8.34M481.33 453.5h8.34M485.5 449.33v8.34M486.33 448.5h8.34M490.5 444.33v8.34M489.33 446.5h8.34M493.5 442.33v8.34M490.33 452.5h8.34M494.5 448.33v8.34M496.33 451.5h8.34M500.5 447.33v8.34M496.33 451.5h8.34M500.5 447.33v8.34M496.33 450.5h8.34M500.5 446.33v8.34M496.33 452.5h8.34M500.5 448.33v8.34M498.33 450.5h8.34M502.5 446.33v8.34M503.33 446.5h8.34M507.5 442.33v8.34M510.33 450.5h8.34M514.5 446.33v8.34M510.33 451.5h8.34M514.5 447.33v8.34M514.33 449.5h8.34M518.5 445.33v8.34M514.33 448.5h8.34M518.5 444.33v8.34M515.33 447.5h8.34M519.5 443.33v8.34M518.33 453.5h8.34M522.5 449.33v8.34M518.33 450.5h8.34M522.5 446.33v8.34M520.33 450.5h8.34M524.5 446.33v8.34M521.33 449.5h8.34M525.5 445.33v8.34M524.33 448.5h8.34M528.5 444.33v8.34M525.33 451.5h8.34M529.5 447.33v8.34M527.33 446.5h8.34M531.5 442.33v8.34M537.33 451.5h8.34M541.5 447.33v8.34M541.33 448.5h8.34M545.5 444.33v8.34M545.33 450.5h8.34M549.5 446.33v8.34M547.33 447.5h8.34M551.5 443.33v8.34M550.33 450.5h8.34M554.5 446.33v8.34M551.33 451.5h8.34M555.5 447.33v8.34M554.33 446.5h8.34M558.5 442.33v8.34M556.33 448.5h8.34M560.5 444.33v8.34M557.33 450.5h8.34M561.5 446.33v8.34M559.33 451.5h8.34M563.5 447.33v8.34M559.33 447.5h8.34M563.5 443.33v8.34M560.33 451.5h8.34M564.5 447.33v8.34M568.33 450.5h8.34M572.5 446.33v8.34M577.33 453.5h8.34M581.5 449.33v8.34M578.33 453.5h8.34M582.5 449.33v8.34M578.33 447.5h8.34M582.5 443.33v8.34M579.33 450.5h8.34M583.5 446.33v8.34M580.33 449.5h8.34M584.5 445.33v8.34M584.33 451.5h8.34M588.5 447.33v8.34M585.33 448.5h8.34M589.5 444.33v8.34M587.33 451.5h8.34M591.5 447.33v8.34M596.33 450.5h8.34M600.5 446.33v8.34M597.33 453.5h8.34M601.5 449.33v8.34M600.33 452.5h8.34M604.5 448.33v8.34M605.33 449.5h8.34M609.5 445.33v8.34M609.33 452.5h8.34M613.5 448.33v8.34M609.33 450.5h8.34M613.5 446.33v8.34M612.33 450.5h8.34M616.5 446.33v8.34M612.33 453.5h8.34M616.5 449.33v8.34M612.33 448.5h8.34M616.5 444.33v8.34M616.33 450.5h8.34M620.5 446.33v8.34M618.33 450.5h8.34M622.5 446.33v8.34M623.33 452.5h8.34M627.5 448.33v8.34M625.33 447.5h8.34M629.5 443.33v8.34M626.33 451.5h8.34M630.5 447.33v8.34M631.33 449.5h8.34M635.5 445.33v8.34M633.33 447.5h8.34M637.5 443.33v8.34M635.33 447.5h8.34M639.5 443.33v8.34M637.33 449.5h8.34M641.5 445.33v8.34M648.33 448.5h8.34M652.5 444.33v8.34M312.33 106.5h8.34M316.5 102.33v8.34M312.33 113.5h8.34M316.5 109.33v8.34M327.33 114.5h8.34M331.5 110.33v8.34M302.33 220.5h8.34M306.5 216.33v8.34M310.33 232.5h8.34M314.5 228.33v8.34M365.33 237.5h8.34M369.5 233.33v8.34M317.33 259.5h8.34M321.5 255.33v8.34M358.33 258.5h8.34M362.5 254.33v8.34M378.33 259.5h8.34M382.5 255.33v8.34M366.33 276.5h8.34M370.5 272.33v8.34M323.33 280.5h8.34M327.5 276.33v8.34M343.33 316.5h8.34M347.5 312.33v8.34M321.33 325.5h8.34M325.5 321.33v8.34M348.33 335.5h8.34M352.5 331.33v8.34M386.33 364.5h8.34M390.5 360.33v8.34M355.33 379.5h8.34M359.5 375.33v8.34M352.33 411.5h8.34M356.5 407.33v8.34M379.33 393.5h8.34M383.5 389.33v8.34M509.33 209.5h8.34M513.5 205.33v8.34M521.33 212.5h8.34M525.5 208.33v8.34M496.33 234.5h8.34M500.5 230.33v8.34M499.33 243.5h8.34M503.5 239.33v8.34M488.33 270.5h8.34M492.5 266.33v8.34M524.33 281.5h8.34M528.5 277.33v8.34M462.33 317.5h8.34M466.5 313.33v8.34M470.33 343.5h8.34M474.5 339.33v8.34M451.33 353.5h8.34M455.5 349.33v8.34M496.33 365.5h8.34M500.5 361.33v8.34M507.33 381.5h8.34M511.5 377.33v8.34M426.33 389.5h8.34M430.5 385.33v8.34M475.33 395.5h8.34M479.5 391.33v8.34M504.33 407.5h8.34M508.5 403.33v8.34M510.33 434.5h8.34M514.5 430.33v8.34M560.33 195.5h8.34M564.5 191.33v8.34M583.33 202.5h8.34M587.5 198.33v8.34M586.33 202.5h8.34M590.5 198.33v8.34M600.33 204.5h8.34M604.5 200.33v8.34M610.33 218.5h8.34M614.5 214.33v8.34M610.33 222.5h8.34M614.5 218.33v8.34M590.33 225.5h8.34M594.5 221.33v8.34M527.33 238.5h8.34M531.5 234.33v8.34M551.33 240.5h8.34M555.5 236.33v8.34M553.33 255.5h8.34M557.5 251.33v8.34M584.33 257.5h8.34M588.5 253.33v8.34M637.33 274.5h8.34M641.5 270.33v8.34M650.33 275.5h8.34M654.5 271.33v8.34M562.33 272.5h8.34M566.5 268.33v8.34M545.33 276.5h8.34M549.5 272.33v8.34M541.33 278.5h8.34M545.5 274.33v8.34M555.33 277.5h8.34M559.5 273.33v8.34M534.33 279.5h8.34M538.5 275.33v8.34M645.33 299.5h8.34M649.5 295.33v8.34M652.33 340.5h8.34M656.5 336.33v8.34M616.33 356.5h8.34M620.5 352.33v8.34M678.33 273.5h8.34M682.5 269.33v8.34M661.33 335.5h8.34M665.5 331.33v8.34M638.33 397.5h8.34M642.5 393.33v8.34M703.33 419.5h8.34M707.5 415.33v8.34M661.33 415.5h8.34M665.5 411.33v8.34M691.33 449.5h8.34M695.5 445.33v8.34M628.33 481.5h8.34M632.5 477.33v8.34M315.33 347.5h8.34M319.5 343.33v8.34M319.33 346.5h8.34M323.5 342.33v8.34M315.33 352.5h8.34M319.5 348.33v8.34M315.33 359.5h8.34M319.5 355.33v8.34M316.33 394.5h8.34M320.5 390.33v8.34M310.33 414.5h8.34M314.5 410.33v8.34M311.33 430.5h8.34M315.5 426.33v8.34M309.33 433.5h8.34M313.5 429.33v8.34M312.33 434.5h8.34M316.5 430.33v8.34M484.33 63.5h8.34M488.5 59.33v8.34"/>
<path class="c" d="M528.33 290.5h8.34M532.5 286.33v8.34M559.33 291.5h8.34M563.5 287.33v8.34M547.33 295.5h8.34M551.5 291.33v8.34M560.33 297.5h8.34M564.5 293.33v8.34M521.33 303.5h8.34M525.5 299.33v8.34M527.33 302.5h8.34M531.5 298.33v8.34M534.33 308.5h8.34M538.5 304.33v8.34M575.33 313.5h8.34M579.5 309.33v8.34M578.33 310.5h8.34M582.5 306.33v8.34M524.33 317.5h8.34M528.5 313.33v8.34M541.33 324.5h8.34M545.5 320.33v8.34M567.33 323.5h8.34M571.5 319.33v8.34M527.33 326.5h8.34M531.5 322.33v8.34M553.33 327.5h8.34M557.5 323.33v8.34M576.33 326.5h8.34M580.5 322.33v8.34M542.33 333.5h8.34M546.5 329.33v8.34M519.33 336.5h8.34M523.5 332.33v8.34M523.33 337.5h8.34M527.5 333.33v8.34M577.33 334.5h8.34M581.5 330.33v8.34M556.33 344.5h8.34M560.5 340.33v8.34M566.33 342.5h8.34M570.5 338.33v8.34M528.33 346.5h8.34M532.5 342.33v8.34M527.33 353.5h8.34M531.5 349.33v8.34M524.33 354.5h8.34M528.5 350.33v8.34M544.33 355.5h8.34M548.5 351.33v8.34M569.33 355.5h8.34M573.5 351.33v8.34M525.33 361.5h8.34M529.5 357.33v8.34M538.33 358.5h8.34M542.5 354.33v8.34M547.33 358.5h8.34M551.5 354.33v8.34M559.33 359.5h8.34M563.5 355.33v8.34M524.33 364.5h8.34M528.5 360.33v8.34M559.33 363.5h8.34M563.5 359.33v8.34M560.33 363.5h8.34M564.5 359.33v8.34M592.33 363.5h8.34M596.5 359.33v8.34M563.33 368.5h8.34M567.5 364.33v8.34M565.33 369.5h8.34M569.5 365.33v8.34M545.33 372.5h8.34M549.5 368.33v8.34M545.33 373.5h8.34M549.5 369.33v8.34M551.33 371.5h8.34M555.5 367.33v8.34M557.33 372.5h8.34M561.5 368.33v8.34M559.33 370.5h8.34M563.5 366.33v8.34M562.33 371.5h8.34M566.5 367.33v8.34M565.33 370.5h8.34M569.5 366.33v8.34M540.33 377.5h8.34M544.5 373.33v8.34M556.33 374.5h8.34M560.5 370.33v8.34M559.33 374.5h8.34M563.5 370.33v8.34M579.33 374.5h8.34M583.5 370.33v8.34M589.33 374.5h8.34M593.5 370.33v8.34M594.33 375.5h8.34M598.5 371.33v8.34M600.33 376.5h8.34M604.5 372.33v8.34M610.33 374.5h8.34M614.5 370.33v8.34M530.33 379.5h8.34M534.5 375.33v8.34M542.33 378.5h8.34M546.5 374.33v8.34M549.33 378.5h8.34M553.5 374.33v8.34M557.33 380.5h8.34M561.5 376.33v8.34M563.33 381.5h8.34M567.5 377.33v8.34M564.33 378.5h8.34M568.5 374.33v8.34M572.33 380.5h8.34M576.5 376.33v8.34M574.33 379.5h8.34M578.5 375.33v8.34M579.33 381.5h8.34M583.5 377.33v8.34M587.33 379.5h8.34M591.5 375.33v8.34M547.33 382.5h8.34M551.5 378.33v8.34M547.33 382.5h8.34M551.5 378.33v8.34M564.33 385.5h8.34M568.5 381.33v8.34M577.33 385.5h8.34M581.5 381.33v8.34M576.33 385.5h8.34M580.5 381.33v8.34M551.33 389.5h8.34M555.5 385.33v8.34M555.33 389.5h8.34M559.5 385.33v8.34M559.33 386.5h8.34M563.5 382.33v8.34M568.33 389.5h8.34M572.5 385.33v8.34M570.33 387.5h8.34M574.5 383.33v8.34M573.33 386.5h8.34M577.5 382.33v8.34M583.33 388.5h8.34M587.5 384.33v8.34M587.33 386.5h8.34M591.5 382.33v8.34M595.33 389.5h8.34M599.5 385.33v8.34M603.33 387.5h8.34M607.5 383.33v8.34M609.33 389.5h8.34M613.5 385.33v8.34M563.33 390.5h8.34M567.5 386.33v8.34M570.33 390.5h8.34M574.5 386.33v8.34M568.33 391.5h8.34M572.5 387.33v8.34M573.33 392.5h8.34M577.5 388.33v8.34M574.33 392.5h8.34M578.5 388.33v8.34M520.33 397.5h8.34M524.5 393.33v8.34M552.33 397.5h8.34M556.5 393.33v8.34M563.33 395.5h8.34M567.5 391.33v8.34M565.33 394.5h8.34M569.5 390.33v8.34M575.33 397.5h8.34M579.5 393.33v8.34M579.33 395.5h8.34M583.5 391.33v8.34M589.33 396.5h8.34M593.5 392.33v8.34M597.33 394.5h8.34M601.5 390.33v8.34M555.33 399.5h8.34M559.5 395.33v8.34M556.33 400.5h8.34M560.5 396.33v8.34M557.33 400.5h8.34M561.5 396.33v8.34M563.33 399.5h8.34M567.5 395.33v8.34M565.33 399.5h8.34M569.5 395.33v8.34M569.33 398.5h8.34M573.5 394.33v8.34M577.33 399.5h8.34M581.5 395.33v8.34M599.33 401.5h8.34M603.5 397.33v8.34M611.33 399.5h8.34M615.5 395.33v8.34M614.33 399.5h8.34M618.5 395.33v8.34M545.33 405.5h8.34M549.5 401.33v8.34M550.33 404.5h8.34M554.5 400.33v8.34M583.33 405.5h8.34M587.5 401.33v8.34M586.33 403.5h8.34M590.5 399.33v8.34M607.33 405.5h8.34M611.5 401.33v8.34M615.33 405.5h8.34M619.5 401.33v8.34M615.33 403.5h8.34M619.5 399.33v8.34M548.33 409.5h8.34M552.5 405.33v8.34M564.33 409.5h8.34M568.5 405.33v8.34M602.33 408.5h8.34M606.5 404.33v8.34M605.33 408.5h8.34M609.5 404.33v8.34M556.33 411.5h8.34M560.5 407.33v8.34M570.33 413.5h8.34M574.5 409.33v8.34M579.33 412.5h8.34M583.5 408.33v8.34M577.33 410.5h8.34M581.5 406.33v8.34M521.33 417.5h8.34M525.5 413.33v8.34M543.33 417.5h8.34M547.5 413.33v8.34M559.33 415.5h8.34M563.5 411.33v8.34M561.33 414.5h8.34M565.5 410.33v8.34M566.33 416.5h8.34M570.5 412.33v8.34M567.33 415.5h8.34M571.5 411.33v8.34M570.33 415.5h8.34M574.5 411.33v8.34M573.33 415.5h8.34M577.5 411.33v8.34M585.33 416.5h8.34M589.5 412.33v8.34M610.33 416.5h8.34M614.5 412.33v8.34M635.33 414.5h8.34M639.5 410.33v8.34M559.33 421.5h8.34M563.5 417.33v8.34M560.33 420.5h8.34M564.5 416.33v8.34M581.33 420.5h8.34M585.5 416.33v8.34M611.33 421.5h8.34M615.5 417.33v8.34M617.33 419.5h8.34M621.5 415.33v8.34M517.33 423.5h8.34M521.5 419.33v8.34M535.33 424.5h8.34M539.5 420.33v8.34M549.33 425.5h8.34M553.5 421.33v8.34M558.33 423.5h8.34M562.5 419.33v8.34M557.33 423.5h8.34M561.5 419.33v8.34M557.33 424.5h8.34M561.5 420.33v8.34M577.33 423.5h8.34M581.5 419.33v8.34M591.33 423.5h8.34M595.5 419.33v8.34M595.33 423.5h8.34M599.5 419.33v8.34M610.33 425.5h8.34M614.5 421.33v8.34M518.33 428.5h8.34M522.5 424.33v8.34M517.33 426.5h8.34M521.5 422.33v8.34M528.33 426.5h8.34M532.5 422.33v8.34M574.33 426.5h8.34M578.5 422.33v8.34M575.33 428.5h8.34M579.5 424.33v8.34M581.33 427.5h8.34M585.5 423.33v8.34M581.33 427.5h8.34M585.5 423.33v8.34M582.33 429.5h8.34M586.5 425.33v8.34M587.33 426.5h8.34M591.5 422.33v8.34M595.33 426.5h8.34M599.5 422.33v8.34M592.33 426.5h8.34M596.5 422.33v8.34M593.33 428.5h8.34M597.5 424.33v8.34M599.33 428.5h8.34M603.5 424.33v8.34M598.33 428.5h8.34M602.5 424.33v8.34M601.33 428.5h8.34M605.5 424.33v8.34M600.33 429.5h8.34M604.5 425.33v8.34M606.33 428.5h8.34M610.5 424.33v8.34M612.33 429.5h8.34M616.5 425.33v8.34M642.33 428.5h8.34M646.5 424.33v8.34M645.33 428.5h8.34M649.5 424.33v8.34M542.33 432.5h8.34M546.5 428.33v8.34M541.33 431.5h8.34M545.5 427.33v8.34M541.33 433.5h8.34M545.5 429.33v8.34M551.33 431.5h8.34M555.5 427.33v8.34M557.33 431.5h8.34M561.5 427.33v8.34M570.33 430.5h8.34M574.5 426.33v8.34M575.33 431.5h8.34M579.5 427.33v8.34M589.33 431.5h8.34M593.5 427.33v8.34M606.33 433.5h8.34M610.5 429.33v8.34M618.33 430.5h8.34M622.5 426.33v8.34M619.33 430.5h8.34M623.5 426.33v8.34M620.33 430.5h8.34M624.5 426.33v8.34M625.33 432.5h8.34M629.5 428.33v8.34M628.33 431.5h8.34M632.5 427.33v8.34M667.33 433.5h8.34M671.5 429.33v8.34M524.33 436.5h8.34M528.5 432.33v8.34M525.33 437.5h8.34M529.5 433.33v8.34M529.33 434.5h8.34M533.5 430.33v8.34M534.33 434.5h8.34M538.5 430.33v8.34M545.33 435.5h8.34M549.5 431.33v8.34M569.33 435.5h8.34M573.5 431.33v8.34M576.33 437.5h8.34M580.5 433.33v8.34M601.33 437.5h8.34M605.5 433.33v8.34M605.33 436.5h8.34M609.5 432.33v8.34M616.33 436.5h8.34M620.5 432.33v8.34M623.33 436.5h8.34M627.5 432.33v8.34M657.33 437.5h8.34M661.5 433.33v8.34M533.33 441.5h8.34M537.5 437.33v8.34M572.33 440.5h8.34M576.5 436.33v8.34M582.33 441.5h8.34M586.5 437.33v8.34M597.33 438.5h8.34M601.5 434.33v8.34M598.33 439.5h8.34M602.5 435.33v8.34M617.33 441.5h8.34M621.5 437.33v8.34M627.33 441.5h8.34M631.5 437.33v8.34M646.33 438.5h8.34M650.5 434.33v8.34M653.33 439.5h8.34M657.5 435.33v8.34M682.33 439.5h8.34M686.5 435.33v8.34M538.33 444.5h8.34M542.5 440.33v8.34M540.33 442.5h8.34M544.5 438.33v8.34M550.33 445.5h8.34M554.5 441.33v8.34M554.33 442.5h8.34M558.5 438.33v8.34M632.33 445.5h8.34M636.5 441.33v8.34M648.33 443.5h8.34M652.5 439.33v8.34M556.33 449.5h8.34M560.5 445.33v8.34M561.33 447.5h8.34M565.5 443.33v8.34M587.33 449.5h8.34M591.5 445.33v8.34M584.33 449.5h8.34M588.5 445.33v8.34M595.33 449.5h8.34M599.5 445.33v8.34M596.33 449.5h8.34M600.5 445.33v8.34M616.33 447.5h8.34M620.5 443.33v8.34M621.33 448.5h8.34M625.5 444.33v8.34M629.33 446.5h8.34M633.5 442.33v8.34M646.33 447.5h8.34M650.5 443.33v8.34M524.33 451.5h8.34M528.5 447.33v8.34M533.33 452.5h8.34M537.5 448.33v8.34M541.33 452.5h8.34M545.5 448.33v8.34M540.33 452.5h8.34M544.5 448.33v8.34M545.33 452.5h8.34M549.5 448.33v8.34M566.33 450.5h8.34M570.5 446.33v8.34M564.33 451.5h8.34M568.5 447.33v8.34M577.33 451.5h8.34M581.5 447.33v8.34M578.33 451.5h8.34M582.5 447.33v8.34M593.33 452.5h8.34M597.5 448.33v8.34M592.33 450.5h8.34M596.5 446.33v8.34M597.33 453.5h8.34M601.5 449.33v8.34M653.33 453.5h8.34M657.5 449.33v8.34M673.33 452.5h8.34M677.5 448.33v8.34M577.33 455.5h8.34M581.5 451.33v8.34M590.33 455.5h8.34M594.5 451.33v8.34M601.33 455.5h8.34M605.5 451.33v8.34M616.33 455.5h8.34M620.5 451.33v8.34M639.33 456.5h8.34M643.5 452.33v8.34M637.33 454.5h8.34M641.5 450.33v8.34M641.33 457.5h8.34M645.5 453.33v8.34M643.33 454.5h8.34M647.5 450.33v8.34M645.33 454.5h8.34M649.5 450.33v8.34M594.33 458.5h8.34M598.5 454.33v8.34M630.33 458.5h8.34M634.5 454.33v8.34M633.33 460.5h8.34M637.5 456.33v8.34M622.33 464.5h8.34M626.5 460.33v8.34M648.33 464.5h8.34M652.5 460.33v8.34M614.33 479.5h8.34M618.5 475.33v8.34M309.33 450.5h8.34M313.5 446.33v8.34M312.33 449.5h8.34M316.5 445.33v8.34M314.33 450.5h8.34M318.5 446.33v8.34M317.33 450.5h8.34M321.5 446.33v8.34M318.33 450.5h8.34M322.5 446.33v8.34M319.33 449.5h8.34M323.5 445.33v8.34M320.33 449.5h8.34M324.5 445.33v8.34M323.33 449.5h8.34M327.5 445.33v8.34M326.33 451.5h8.34M330.5 447.33v8.34M331.33 450.5h8.34M335.5 446.33v8.34M339.33 450.5h8.34M343.5 446.33v8.34M340.33 449.5h8.34M344.5 445.33v8.34M358.33 449.5h8.34M362.5 445.33v8.34M365.33 450.5h8.34M369.5 446.33v8.34M365.33 450.5h8.34M369.5 446.33v8.34M373.33 450.5h8.34M377.5 446.33v8.34M381.33 451.5h8.34M385.5 447.33v8.34M382.33 449.5h8.34M386.5 445.33v8.34M384.33 449.5h8.34M388.5 445.33v8.34M389.33 450.5h8.34M393.5 446.33v8.34M394.33 450.5h8.34M398.5 446.33v8.34M398.33 450.5h8.34M402.5 446.33v8.34M404.33 450.5h8.34M408.5 446.33v8.34M405.33 451.5h8.34M409.5 447.33v8.34M405.33 451.5h8.34M409.5 447.33v8.34M413.33 450.5h8.34M417.5 446.33v8.34M413.33 449.5h8.34M417.5 445.33v8.34M421.33 451.5h8.34M425.5 447.33v8.34M427.33 450.5h8.34M431.5 446.33v8.34M428.33 451.5h8.34M432.5 447.33v8.34M429.33 448.5h8.34M433.5 444.33v8.34M434.33 450.5h8.34M438.5 446.33v8.34M435.33 450.5h8.34M439.5 446.33v8.34M436.33 450.5h8.34M440.5 446.33v8.34M436.33 449.5h8.34M440.5 445.33v8.34M437.33 448.5h8.34M441.5 444.33v8.34M443.33 449.5h8.34M447.5 445.33v8.34M455.33 449.5h8.34M459.5 445.33v8.34M459.33 450.5h8.34M463.5 446.33v8.34M459.33 450.5h8.34M463.5 446.33v8.34M460.33 449.5h8.34M464.5 445.33v8.34M463.33 451.5h8.34M467.5 447.33v8.34M464.33 451.5h8.34M468.5 447.33v8.34M468.33 449.5h8.34M472.5 445.33v8.34M473.33 450.5h8.34M477.5 446.33v8.34M479.33 450.5h8.34M483.5 446.33v8.34M480.33 447.5h8.34M484.5 443.33v8.34M481.33 449.5h8.34M485.5 445.33v8.34M484.33 452.5h8.34M488.5 448.33v8.34M485.33 449.5h8.34M489.5 445.33v8.34M485.33 452.5h8.34M489.5 448.33v8.34M489.33 451.5h8.34M493.5 447.33v8.34M497.33 448.5h8.34M501.5 444.33v8.34M498.33 448.5h8.34M502.5 444.33v8.34M498.33 447.5h8.34M502.5 443.33v8.34M498.33 451.5h8.34M502.5 447.33v8.34M500.33 452.5h8.34M504.5 448.33v8.34M500.33 447.5h8.34M504.5 443.33v8.34M500.33 446.5h8.34M504.5 442.33v8.34M503.33 451.5h8.34M507.5 447.33v8.34M508.33 449.5h8.34M512.5 445.33v8.34M522.33 451.5h8.34M526.5 447.33v8.34M527.33 453.5h8.34M531.5 449.33v8.34M529.33 451.5h8.34M533.5 447.33v8.34M532.33 449.5h8.34M536.5 445.33v8.34M535.33 445.5h8.34M539.5 441.33v8.34M541.33 448.5h8.34M545.5 444.33v8.34M545.33 447.5h8.34M549.5 443.33v8.34M549.33 448.5h8.34M553.5 444.33v8.34M551.33 445.5h8.34M555.5 441.33v8.34M552.33 450.5h8.34M556.5 446.33v8.34M553.33 451.5h8.34M557.5 447.33v8.34M558.33 452.5h8.34M562.5 448.33v8.34M559.33 452.5h8.34M563.5 448.33v8.34M560.33 453.5h8.34M564.5 449.33v8.34M564.33 451.5h8.34M568.5 447.33v8.34M572.33 451.5h8.34M576.5 447.33v8.34M578.33 452.5h8.34M582.5 448.33v8.34M580.33 447.5h8.34M584.5 443.33v8.34M581.33 452.5h8.34M585.5 448.33v8.34M582.33 452.5h8.34M586.5 448.33v8.34M583.33 448.5h8.34M587.5 444.33v8.34M602.33 451.5h8.34M606.5 447.33v8.34M605.33 453.5h8.34M609.5 449.33v8.34M606.33 450.5h8.34M610.5 446.33v8.34M607.33 456.5h8.34M611.5 452.33v8.34M607.33 450.5h8.34M611.5 446.33v8.34M608.33 453.5h8.34M612.5 449.33v8.34M608.33 451.5h8.34M612.5 447.33v8.34M610.33 448.5h8.34M614.5 444.33v8.34M616.33 448.5h8.34M620.5 444.33v8.34M616.33 448.5h8.34M620.5 444.33v8.34M619.33 448.5h8.34M623.5 444.33v8.34M620.33 448.5h8.34M624.5 444.33v8.34M628.33 453.5h8.34M632.5 449.33v8.34M629.33 449.5h8.34M633.5 445.33v8.34M631.33 451.5h8.34M635.5 447.33v8.34M634.33 451.5h8.34M638.5 447.33v8.34M644.33 450.5h8.34M648.5 446.33v8.34M392.33 205.5h8.34M396.5 201.33v8.34M366.33 252.5h8.34M370.5 248.33v8.34M319.33 262.5h8.34M323.5 258.33v8.34M370.33 255.5h8.34M374.5 251.33v8.34M376.33 280.5h8.34M380.5 276.33v8.34M380.33 286.5h8.34M384.5 282.33v8.34M345.33 295.5h8.34M349.5 291.33v8.34M381.33 307.5h8.34M385.5 303.33v8.34M338.33 326.5h8.34M342.5 322.33v8.34M361.33 358.5h8.34M365.5 354.33v8.34M519.33 197.5h8.34M523.5 193.33v8.34M497.33 216.5h8.34M501.5 212.33v8.34M469.33 242.5h8.34M473.5 238.33v8.34M489.33 256.5h8.34M493.5 252.33v8.34M515.33 269.5h8.34M519.5 265.33v8.34M457.33 280.5h8.34M461.5 276.33v8.34M463.33 291.5h8.34M467.5 287.33v8.34M464.33 298.5h8.34M468.5 294.33v8.34M501.33 310.5h8.34M505.5 306.33v8.34M473.33 325.5h8.34M477.5 321.33v8.34M491.33 338.5h8.34M495.5 334.33v8.34M492.33 342.5h8.34M496.5 338.33v8.34M504.33 341.5h8.34M508.5 337.33v8.34M467.33 343.5h8.34M471.5 339.33v8.34M442.33 361.5h8.34M446.5 357.33v8.34M489.33 361.5h8.34M493.5 357.33v8.34M497.33 368.5h8.34M501.5 364.33v8.34M469.33 379.5h8.34M473.5 375.33v8.34M486.33 385.5h8.34M490.5 381.33v8.34M452.33 388.5h8.34M456.5 384.33v8.34M425.33 300.5h8.34M429.5 296.33v8.34M469.33 398.5h8.34M473.5 394.33v8.34M467.33 406.5h8.34M471.5 402.33v8.34M496.33 409.5h8.34M500.5 405.33v8.34M512.33 410.5h8.34M516.5 406.33v8.34M508.33 424.5h8.34M512.5 420.33v8.34M492.33 469.5h8.34M496.5 465.33v8.34M541.33 211.5h8.34M545.5 207.33v8.34M532.33 220.5h8.34M536.5 216.33v8.34M547.33 233.5h8.34M551.5 229.33v8.34M565.33 235.5h8.34M569.5 231.33v8.34M565.33 238.5h8.34M569.5 234.33v8.34M587.33 240.5h8.34M591.5 236.33v8.34M553.33 248.5h8.34M557.5 244.33v8.34M561.33 256.5h8.34M565.5 252.33v8.34M560.33 260.5h8.34M564.5 256.33v8.34M556.33 263.5h8.34M560.5 259.33v8.34M569.33 266.5h8.34M573.5 262.33v8.34M540.33 268.5h8.34M544.5 264.33v8.34M566.33 273.5h8.34M570.5 269.33v8.34M529.33 283.5h8.34M533.5 279.33v8.34M585.33 301.5h8.34M589.5 297.33v8.34M621.33 361.5h8.34M625.5 357.33v8.34M650.33 397.5h8.34M654.5 393.33v8.34M646.33 405.5h8.34M650.5 401.33v8.34M664.33 413.5h8.34M668.5 409.33v8.34M696.33 427.5h8.34M700.5 423.33v8.34M711.33 444.5h8.34M715.5 440.33v8.34M709.33 460.5h8.34M713.5 456.33v8.34M308.33 352.5h8.34M312.5 348.33v8.34M309.33 390.5h8.34M313.5 386.33v8.34M313.33 399.5h8.34M317.5 395.33v8.34M316.33 396.5h8.34M320.5 392.33v8.34M309.33 419.5h8.34M313.5 415.33v8.34M308.33 449.5h8.34M312.5 445.33v8.34M396.33 442.5h8.34M400.5 438.33v8.34"/>
<path class="c" d="M542.33 290.5h8.34M546.5 286.33v8.34M544.33 293.5h8.34M548.5 289.33v8.34M548.33 293.5h8.34M552.5 289.33v8.34M559.33 291.5h8.34M563.5 287.33v8.34M519.33 297.5h8.34M523.5 293.33v8.34M581.33 296.5h8.34M585.5 292.33v8.34M541.33 309.5h8.34M545.5 305.33v8.34M541.33 309.5h8.34M545.5 305.33v8.34M556.33 307.5h8.34M560.5 303.33v8.34M535.33 316.5h8.34M539.5 312.33v8.34M535.33 314.5h8.34M539.5 310.33v8.34M520.33 320.5h8.34M524.5 316.33v8.34M549.33 319.5h8.34M553.5 315.33v8.34M519.33 325.5h8.34M523.5 321.33v8.34M577.33 323.5h8.34M581.5 319.33v8.34M542.33 331.5h8.34M546.5 327.33v8.34M566.33 334.5h8.34M570.5 330.33v8.34M548.33 339.5h8.34M552.5 335.33v8.34M571.33 340.5h8.34M575.5 336.33v8.34M529.33 344.5h8.34M533.5 340.33v8.34M531.33 342.5h8.34M535.5 338.33v8.34M549.33 342.5h8.34M553.5 338.33v8.34M524.33 346.5h8.34M528.5 342.33v8.34M540.33 349.5h8.34M544.5 345.33v8.34M559.33 348.5h8.34M563.5 344.33v8.34M525.33 353.5h8.34M529.5 349.33v8.34M535.33 350.5h8.34M539.5 346.33v8.34M551.33 356.5h8.34M555.5 352.33v8.34M552.33 354.5h8.34M556.5 350.33v8.34M578.33 357.5h8.34M582.5 353.33v8.34M556.33 359.5h8.34M560.5 355.33v8.34M572.33 361.5h8.34M576.5 357.33v8.34M531.33 365.5h8.34M535.5 361.33v8.34M528.33 363.5h8.34M532.5 359.33v8.34M546.33 363.5h8.34M550.5 359.33v8.34M553.33 363.5h8.34M557.5 359.33v8.34M558.33 363.5h8.34M562.5 359.33v8.34M571.33 363.5h8.34M575.5 359.33v8.34M522.33 369.5h8.34M526.5 365.33v8.34M526.33 366.5h8.34M530.5 362.33v8.34M539.33 366.5h8.34M543.5 362.33v8.34M547.33 368.5h8.34M551.5 364.33v8.34M559.33 366.5h8.34M563.5 362.33v8.34M584.33 366.5h8.34M588.5 362.33v8.34M532.33 370.5h8.34M536.5 366.33v8.34M538.33 370.5h8.34M542.5 366.33v8.34M538.33 372.5h8.34M542.5 368.33v8.34M551.33 371.5h8.34M555.5 367.33v8.34M556.33 373.5h8.34M560.5 369.33v8.34M560.33 372.5h8.34M564.5 368.33v8.34M565.33 372.5h8.34M569.5 368.33v8.34M585.33 371.5h8.34M589.5 367.33v8.34M589.33 373.5h8.34M593.5 369.33v8.34M588.33 372.5h8.34M592.5 368.33v8.34M557.33 376.5h8.34M561.5 372.33v8.34M561.33 374.5h8.34M565.5 370.33v8.34M575.33 376.5h8.34M579.5 372.33v8.34M544.33 380.5h8.34M548.5 376.33v8.34M567.33 379.5h8.34M571.5 375.33v8.34M585.33 378.5h8.34M589.5 374.33v8.34M537.33 383.5h8.34M541.5 379.33v8.34M551.33 385.5h8.34M555.5 381.33v8.34M565.33 382.5h8.34M569.5 378.33v8.34M526.33 387.5h8.34M530.5 383.33v8.34M556.33 386.5h8.34M560.5 382.33v8.34M558.33 387.5h8.34M562.5 383.33v8.34M568.33 388.5h8.34M572.5 384.33v8.34M575.33 389.5h8.34M579.5 385.33v8.34M578.33 388.5h8.34M582.5 384.33v8.34M580.33 388.5h8.34M584.5 384.33v8.34M586.33 387.5h8.34M590.5 383.33v8.34M594.33 386.5h8.34M598.5 382.33v8.34M517.33 393.5h8.34M521.5 389.33v8.34M522.33 391.5h8.34M526.5 387.33v8.34M528.33 390.5h8.34M532.5 386.33v8.34M531.33 390.5h8.34M535.5 386.33v8.34M544.33 391.5h8.34M548.5 387.33v8.34M547.33 392.5h8.34M551.5 388.33v8.34M560.33 393.5h8.34M564.5 389.33v8.34M561.33 390.5h8.34M565.5 386.33v8.34M568.33 393.5h8.34M572.5 389.33v8.34M574.33 393.5h8.34M578.5 389.33v8.34M576.33 392.5h8.34M580.5 388.33v8.34M585.33 391.5h8.34M589.5 387.33v8.34M590.33 391.5h8.34M594.5 387.33v8.34M521.33 394.5h8.34M525.5 390.33v8.34M535.33 397.5h8.34M539.5 393.33v8.34M543.33 394.5h8.34M547.5 390.33v8.34M570.33 396.5h8.34M574.5 392.33v8.34M572.33 396.5h8.34M576.5 392.33v8.34M585.33 395.5h8.34M589.5 391.33v8.34M599.33 394.5h8.34M603.5 390.33v8.34M529.33 401.5h8.34M533.5 397.33v8.34M545.33 400.5h8.34M549.5 396.33v8.34M558.33 399.5h8.34M562.5 395.33v8.34M557.33 398.5h8.34M561.5 394.33v8.34M585.33 400.5h8.34M589.5 396.33v8.34M592.33 401.5h8.34M596.5 397.33v8.34M594.33 401.5h8.34M598.5 397.33v8.34M598.33 400.5h8.34M602.5 396.33v8.34M549.33 402.5h8.34M553.5 398.33v8.34M561.33 402.5h8.34M565.5 398.33v8.34M565.33 404.5h8.34M569.5 400.33v8.34M575.33 403.5h8.34M579.5 399.33v8.34M577.33 404.5h8.34M581.5 400.33v8.34M584.33 404.5h8.34M588.5 400.33v8.34M589.33 402.5h8.34M593.5 398.33v8.34M595.33 403.5h8.34M599.5 399.33v8.34M598.33 403.5h8.34M602.5 399.33v8.34M617.33 405.5h8.34M621.5 401.33v8.34M541.33 406.5h8.34M545.5 402.33v8.34M559.33 409.5h8.34M563.5 405.33v8.34M574.33 406.5h8.34M578.5 402.33v8.34M581.33 408.5h8.34M585.5 404.33v8.34M584.33 407.5h8.34M588.5 403.33v8.34M590.33 407.5h8.34M594.5 403.33v8.34M590.33 409.5h8.34M594.5 405.33v8.34M592.33 407.5h8.34M596.5 403.33v8.34M597.33 407.5h8.34M601.5 403.33v8.34M604.33 407.5h8.34M608.5 403.33v8.34M623.33 409.5h8.34M627.5 405.33v8.34M521.33 411.5h8.34M525.5 407.33v8.34M540.33 411.5h8.34M544.5 407.33v8.34M546.33 410.5h8.34M550.5 406.33v8.34M554.33 412.5h8.34M558.5 408.33v8.34M555.33 412.5h8.34M559.5 408.33v8.34M561.33 410.5h8.34M565.5 406.33v8.34M567.33 411.5h8.34M571.5 407.33v8.34M579.33 410.5h8.34M583.5 406.33v8.34M584.33 411.5h8.34M588.5 407.33v8.34M585.33 412.5h8.34M589.5 408.33v8.34M614.33 410.5h8.34M618.5 406.33v8.34M519.33 417.5h8.34M523.5 413.33v8.34M521.33 416.5h8.34M525.5 412.33v8.34M563.33 414.5h8.34M567.5 410.33v8.34M573.33 415.5h8.34M577.5 411.33v8.34M576.33 415.5h8.34M580.5 411.33v8.34M585.33 415.5h8.34M589.5 411.33v8.34M617.33 417.5h8.34M621.5 413.33v8.34M518.33 419.5h8.34M522.5 415.33v8.34M542.33 418.5h8.34M546.5 414.33v8.34M546.33 419.5h8.34M550.5 415.33v8.34M562.33 420.5h8.34M566.5 416.33v8.34M570.33 420.5h8.34M574.5 416.33v8.34M571.33 419.5h8.34M575.5 415.33v8.34M573.33 419.5h8.34M577.5 415.33v8.34M572.33 419.5h8.34M576.5 415.33v8.34M597.33 421.5h8.34M601.5 417.33v8.34M610.33 418.5h8.34M614.5 414.33v8.34M557.33 424.5h8.34M561.5 420.33v8.34M560.33 425.5h8.34M564.5 421.33v8.34M560.33 422.5h8.34M564.5 418.33v8.34M588.33 422.5h8.34M592.5 418.33v8.34M600.33 422.5h8.34M604.5 418.33v8.34M615.33 425.5h8.34M619.5 421.33v8.34M528.33 426.5h8.34M532.5 422.33v8.34M562.33 427.5h8.34M566.5 423.33v8.34M571.33 427.5h8.34M575.5 423.33v8.34M572.33 427.5h8.34M576.5 423.33v8.34M588.33 427.5h8.34M592.5 423.33v8.34M596.33 429.5h8.34M600.5 425.33v8.34M597.33 426.5h8.34M601.5 422.33v8.34M601.33 428.5h8.34M605.5 424.33v8.34M600.33 426.5h8.34M604.5 422.33v8.34M609.33 428.5h8.34M613.5 424.33v8.34M649.33 429.5h8.34M653.5 425.33v8.34M659.33 426.5h8.34M663.5 422.33v8.34M528.33 431.5h8.34M532.5 427.33v8.34M539.33 430.5h8.34M543.5 426.33v8.34M540.33 432.5h8.34M544.5 428.33v8.34M562.33 430.5h8.34M566.5 426.33v8.34M570.33 433.5h8.34M574.5 429.33v8.34M573.33 431.5h8.34M577.5 427.33v8.34M591.33 430.5h8.34M595.5 426.33v8.34M592.33 431.5h8.34M596.5 427.33v8.34M599.33 431.5h8.34M603.5 427.33v8.34M604.33 432.5h8.34M608.5 428.33v8.34M613.33 431.5h8.34M617.5 427.33v8.34M623.33 430.5h8.34M627.5 426.33v8.34M623.33 433.5h8.34M627.5 429.33v8.34M623.33 431.5h8.34M627.5 427.33v8.34M545.33 437.5h8.34M549.5 433.33v8.34M549.33 434.5h8.34M553.5 430.33v8.34M557.33 434.5h8.34M561.5 430.33v8.34M572.33 434.5h8.34M576.5 430.33v8.34M572.33 435.5h8.34M576.5 431.33v8.34M590.33 437.5h8.34M594.5 433.33v8.34M611.33 434.5h8.34M615.5 430.33v8.34M615.33 435.5h8.34M619.5 431.33v8.34M622.33 437.5h8.34M626.5 433.33v8.34M641.33 435.5h8.34M645.5 431.33v8.34M640.33 435.5h8.34M644.5 431.33v8.34M540.33 441.5h8.34M544.5 437.33v8.34M546.33 438.5h8.34M550.5 434.33v8.34M554.33 439.5h8.34M558.5 435.33v8.34M555.33 439.5h8.34M559.5 435.33v8.34M563.33 439.5h8.34M567.5 435.33v8.34M568.33 438.5h8.34M572.5 434.33v8.34M570.33 439.5h8.34M574.5 435.33v8.34M590.33 439.5h8.34M594.5 435.33v8.34M588.33 438.5h8.34M592.5 434.33v8.34M657.33 439.5h8.34M661.5 435.33v8.34M541.33 444.5h8.34M545.5 440.33v8.34M547.33 444.5h8.34M551.5 440.33v8.34M553.33 443.5h8.34M557.5 439.33v8.34M559.33 443.5h8.34M563.5 439.33v8.34M604.33 442.5h8.34M608.5 438.33v8.34M609.33 444.5h8.34M613.5 440.33v8.34M618.33 442.5h8.34M622.5 438.33v8.34M623.33 444.5h8.34M627.5 440.33v8.34M629.33 443.5h8.34M633.5 439.33v8.34M540.33 449.5h8.34M544.5 445.33v8.34M561.33 447.5h8.34M565.5 443.33v8.34M573.33 447.5h8.34M577.5 443.33v8.34M602.33 448.5h8.34M606.5 444.33v8.34M610.33 447.5h8.34M614.5 443.33v8.34M609.33 449.5h8.34M613.5 445.33v8.34M620.33 447.5h8.34M624.5 443.33v8.34M636.33 449.5h8.34M640.5 445.33v8.34M670.33 449.5h8.34M674.5 445.33v8.34M541.33 453.5h8.34M545.5 449.33v8.34M551.33 453.5h8.34M555.5 449.33v8.34M555.33 453.5h8.34M559.5 449.33v8.34M562.33 450.5h8.34M566.5 446.33v8.34M600.33 453.5h8.34M604.5 449.33v8.34M624.33 450.5h8.34M628.5 446.33v8.34M632.33 453.5h8.34M636.5 449.33v8.34M637.33 453.5h8.34M641.5 449.33v8.34M649.33 453.5h8.34M653.5 449.33v8.34M586.33 457.5h8.34M590.5 453.33v8.34M596.33 455.5h8.34M600.5 451.33v8.34M604.33 456.5h8.34M608.5 452.33v8.34M609.33 456.5h8.34M613.5 452.33v8.34M633.33 455.5h8.34M637.5 451.33v8.34M645.33 457.5h8.34M649.5 453.33v8.34M648.33 455.5h8.34M652.5 451.33v8.34M686.33 457.5h8.34M690.5 453.33v8.34M579.33 458.5h8.34M583.5 454.33v8.34M609.33 461.5h8.34M613.5 457.33v8.34M623.33 459.5h8.34M627.5 455.33v8.34M638.33 461.5h8.34M642.5 457.33v8.34M646.33 458.5h8.34M650.5 454.33v8.34M647.33 461.5h8.34M651.5 457.33v8.34M624.33 465.5h8.34M628.5 461.33v8.34M638.33 462.5h8.34M642.5 458.33v8.34M645.33 466.5h8.34M649.5 462.33v8.34M309.33 451.5h8.34M313.5 447.33v8.34M311.33 451.5h8.34M315.5 447.33v8.34M322.33 449.5h8.34M326.5 445.33v8.34M332.33 450.5h8.34M336.5 446.33v8.34M333.33 450.5h8.34M337.5 446.33v8.34M333.33 450.5h8.34M337.5 446.33v8.34M336.33 450.5h8.34M340.5 446.33v8.34M338.33 450.5h8.34M342.5 446.33v8.34M343.33 450.5h8.34M347.5 446.33v8.34M344.33 449.5h8.34M348.5 445.33v8.34M348.33 450.5h8.34M352.5 446.33v8.34M357.33 450.5h8.34M361.5 446.33v8.34M371.33 450.5h8.34M375.5 446.33v8.34M373.33 450.5h8.34M377.5 446.33v8.34M383.33 451.5h8.34M387.5 447.33v8.34M384.33 448.5h8.34M388.5 444.33v8.34M395.33 451.5h8.34M399.5 447.33v8.34M395.33 450.5h8.34M399.5 446.33v8.34M397.33 450.5h8.34M401.5 446.33v8.34M400.33 448.5h8.34M404.5 444.33v8.34M405.33 448.5h8.34M409.5 444.33v8.34M406.33 449.5h8.34M410.5 445.33v8.34M407.33 449.5h8.34M411.5 445.33v8.34M412.33 447.5h8.34M416.5 443.33v8.34M414.33 450.5h8.34M418.5 446.33v8.34M415.33 450.5h8.34M419.5 446.33v8.34M420.33 449.5h8.34M424.5 445.33v8.34M421.33 449.5h8.34M425.5 445.33v8.34M423.33 450.5h8.34M427.5 446.33v8.34M424.33 449.5h8.34M428.5 445.33v8.34M427.33 449.5h8.34M431.5 445.33v8.34M428.33 450.5h8.34M432.5 446.33v8.34M429.33 450.5h8.34M433.5 446.33v8.34M436.33 450.5h8.34M440.5 446.33v8.34M447.33 450.5h8.34M451.5 446.33v8.34M447.33 450.5h8.34M451.5 446.33v8.34M453.33 451.5h8.34M457.5 447.33v8.34M456.33 451.5h8.34M460.5 447.33v8.34M459.33 449.5h8.34M463.5 445.33v8.34M460.33 449.5h8.34M464.5 445.33v8.34M460.33 449.5h8.34M464.5 445.33v8.34M463.33 450.5h8.34M467.5 446.33v8.34M469.33 450.5h8.34M473.5 446.33v8.34M475.33 451.5h8.34M479.5 447.33v8.34M475.33 450.5h8.34M479.5 446.33v8.34M477.33 448.5h8.34M481.5 444.33v8.34M477.33 451.5h8.34M481.5 447.33v8.34M478.33 449.5h8.34M482.5 445.33v8.34M480.33 449.5h8.34M484.5 445.33v8.34M483.33 449.5h8.34M487.5 445.33v8.34M486.33 452.5h8.34M490.5 448.33v8.34M487.33 450.5h8.34M491.5 446.33v8.34M497.33 454.5h8.34M501.5 450.33v8.34M500.33 449.5h8.34M504.5 445.33v8.34M503.33 453.5h8.34M507.5 449.33v8.34M506.33 447.5h8.34M510.5 443.33v8.34M513.33 448.5h8.34M517.5 444.33v8.34M515.33 451.5h8.34M519.5 447.33v8.34M522.33 446.5h8.34M526.5 442.33v8.34M523.33 452.5h8.34M527.5 448.33v8.34M523.33 454.5h8.34M527.5 450.33v8.34M525.33 451.5h8.34M529.5 447.33v8.34M525.33 450.5h8.34M529.5 446.33v8.34M527.33 453.5h8.34M531.5 449.33v8.34M527.33 451.5h8.34M531.5 447.33v8.34M527.33 448.5h8.34M531.5 444.33v8.34M529.33 454.5h8.34M533.5 450.33v8.34M529.33 452.5h8.34M533.5 448.33v8.34M534.33 450.5h8.34M538.5 446.33v8.34M535.33 446.5h8.34M539.5 442.33v8.34M539.33 451.5h8.34M543.5 447.33v8.34M541.33 450.5h8.34M545.5 446.33v8.34M544.33 449.5h8.34M548.5 445.33v8.34M545.33 450.5h8.34M549.5 446.33v8.34M546.33 451.5h8.34M550.5 447.33v8.34M549.33 452.5h8.34M553.5 448.33v8.34M562.33 450.5h8.34M566.5 446.33v8.34M562.33 449.5h8.34M566.5 445.33v8.34M566.33 450.5h8.34M570.5 446.33v8.34M571.33 449.5h8.34M575.5 445.33v8.34M571.33 449.5h8.34M575.5 445.33v8.34M573.33 451.5h8.34M577.5 447.33v8.34M573.33 450.5h8.34M577.5 446.33v8.34M575.33 452.5h8.34M579.5 448.33v8.34M582.33 449.5h8.34M586.5 445.33v8.34M587.33 452.5h8.34M591.5 448.33v8.34M595.33 454.5h8.34M599.5 450.33v8.34M599.33 450.5h8.34M603.5 446.33v8.34M600.33 450.5h8.34M604.5 446.33v8.34M610.33 450.5h8.34M614.5 446.33v8.34M611.33 451.5h8.34M615.5 447.33v8.34M619.33 450.5h8.34M623.5 446.33v8.34M621.33 451.5h8.34M625.5 447.33v8.34M622.33 447.5h8.34M626.5 443.33v8.34M624.33 450.5h8.34M628.5 446.33v8.34M627.33 451.5h8.34M631.5 447.33v8.34M628.33 449.5h8.34M632.5 445.33v8.34M319.33 63.5h8.34M323.5 59.33v8.34M374.33 150.5h8.34M378.5 146.33v8.34M394.33 151.5h8.34M398.5 147.33v8.34M361.33 238.5h8.34M365.5 234.33v8.34M365.33 272.5h8.34M369.5 268.33v8.34M355.33 274.5h8.34M359.5 270.33v8.34M375.33 285.5h8.34M379.5 281.33v8.34M376.33 336.5h8.34M380.5 332.33v8.34M362.33 344.5h8.34M366.5 340.33v8.34M339.33 353.5h8.34M343.5 349.33v8.34M365.33 352.5h8.34M369.5 348.33v8.34M374.33 391.5h8.34M378.5 387.33v8.34M424.33 202.5h8.34M428.5 198.33v8.34M448.33 209.5h8.34M452.5 205.33v8.34M507.33 197.5h8.34M511.5 193.33v8.34M478.33 215.5h8.34M482.5 211.33v8.34M505.33 222.5h8.34M509.5 218.33v8.34M480.33 246.5h8.34M484.5 242.33v8.34M458.33 247.5h8.34M462.5 243.33v8.34M462.33 248.5h8.34M466.5 244.33v8.34M521.33 279.5h8.34M525.5 275.33v8.34M491.33 288.5h8.34M495.5 284.33v8.34M447.33 320.5h8.34M451.5 316.33v8.34M482.33 321.5h8.34M486.5 317.33v8.34M398.33 327.5h8.34M402.5 323.33v8.34M511.33 345.5h8.34M515.5 341.33v8.34M402.33 340.5h8.34M406.5 336.33v8.34M470.33 353.5h8.34M474.5 349.33v8.34M506.33 352.5h8.34M510.5 348.33v8.34M427.33 370.5h8.34M431.5 366.33v8.34M504.33 372.5h8.34M508.5 368.33v8.34M478.33 376.5h8.34M482.5 372.33v8.34M459.33 377.5h8.34M463.5 373.33v8.34M425.33 336.5h8.34M429.5 332.33v8.34M485.33 392.5h8.34M489.5 388.33v8.34M472.33 421.5h8.34M476.5 417.33v8.34M500.33 422.5h8.34M504.5 418.33v8.34M548.33 194.5h8.34M552.5 190.33v8.34M526.33 203.5h8.34M530.5 199.33v8.34M546.33 208.5h8.34M550.5 204.33v8.34M593.33 228.5h8.34M597.5 224.33v8.34M533.33 233.5h8.34M537.5 229.33v8.34M598.33 244.5h8.34M602.5 240.33v8.34M535.33 251.5h8.34M539.5 247.33v8.34M570.33 255.5h8.34M574.5 251.33v8.34M576.33 256.5h8.34M580.5 252.33v8.34M603.33 255.5h8.34M607.5 251.33v8.34M611.33 256.5h8.34M615.5 252.33v8.34M602.33 260.5h8.34M606.5 256.33v8.34M539.33 270.5h8.34M543.5 266.33v8.34M575.33 275.5h8.34M579.5 271.33v8.34M566.33 283.5h8.34M570.5 279.33v8.34M578.33 288.5h8.34M582.5 284.33v8.34M600.33 285.5h8.34M604.5 281.33v8.34M606.33 331.5h8.34M610.5 327.33v8.34M597.33 344.5h8.34M601.5 340.33v8.34M598.33 351.5h8.34M602.5 347.33v8.34M619.33 356.5h8.34M623.5 352.33v8.34M609.33 373.5h8.34M613.5 369.33v8.34M618.33 371.5h8.34M622.5 367.33v8.34M641.33 401.5h8.34M645.5 397.33v8.34M667.33 407.5h8.34M671.5 403.33v8.34M700.33 411.5h8.34M704.5 407.33v8.34M657.33 417.5h8.34M661.5 413.33v8.34M670.33 473.5h8.34M674.5 469.33v8.34M308.33 345.5h8.34M312.5 341.33v8.34M307.33 391.5h8.34M311.5 387.33v8.34M315.33 400.5h8.34M319.5 396.33v8.34M305.33 410.5h8.34M309.5 406.33v8.34M322.33 430.5h8.34M326.5 426.33v8.34M403.33 61.5h8.34M407.5 57.33v8.34M539.33 61.5h8.34M543.5 57.33v8.34"/>
<path class="b" d="M312.33 444.33l8.34 8.34m0 -8.34l-8.34 8.34M314.33 445.33l8.34 8.34m0 -8.34l-8.34 8.34M317.33 447.33l8.34 8.34m0 -8.34l-8.34 8.34M318.33 445.33l8.34 8.34m0 -8.34l-8.34 8.34M323.33 446.33l8.34 8.34m0 -8.34l-8.34 8.34M326.33 446.33l8.34 8.34m0 -8.34l-8.34 8.34M328.33 445.33l8.34 8.34m0 -8.34l-8.34 8.34M330.33 447.33l8.34 8.34m0 -8.34l-8.34 8.34M333.33 446.33l8.34 8.34m0 -8.34l-8.34 8.34M335.33 446.33l8.34 8.34m0 -8.34l-8.34 8.34M336.33 444.33l8.34 8.34m0 -8.34l-8.34 8.34M339.33 445.33l8.34 8.34m0 -8.34l-8.34 8.34M342.33 446.33l8.34 8.34m0 -8.34l-8.34 8.34M344.33 445.33l8.34 8.34m0 -8.34l-8.34 8.34M346.33 446.33l8.34 8.34m0 -8.34l-8.34 8.34M351.33 445.33l8.34 8.34m0 -8.34l-8.34 8.34M354.33 446.33l8.34 8.34m0 -8.34l-8.34 8.34M361.33 444.33l8.34 8.34m0 -8.34l-8.34 8.34M364.33 445.33l8.34 8.34m0 -8.34l-8.34 8.34M367.33 447.33l8.34 8.34m0 -8.34l-8.34 8.34M369.33 445.33l8.34 8.34m0 -8.34l-8.34 8.34M372.33 447.33l8.34 8.34m0 -8.34l-8.34 8.34M375.33 445.33l8.34 8.34m0 -8.34l-8.34 8.34M377.33 446.33l8.34 8.34m0 -8.34l-8.34 8.34M382.33 445.33l8.34 8.34m0 -8.34l-8.34 8.34M383.33 446.33l8.34 8.34m0 -8.34l-8.34 8.34M385.33 445.33l8.34 8.34m0 -8.34l-8.34 8.34M388.33 446.33l8.34 8.34m0 -8.34l-8.34 8.34M391.33 447.33l8.34 8.34m0 -8.34l-8.34 8.34M394.33 445.33l8.34 8.34m0 -8.34l-8.34 8.34M397.33 448.33l8.34 8.34m0 -8.34l-8.34 8.34M403.33 446.33l8.34 8.34m0 -8.34l-8.34 8.34M404.33 446.33l8.34 8.34m0 -8.34l-8.34 8.34M407.33 446.33l8.34 8.34m0 -8.34l-8.34 8.34M409.33 445.33l8.34 8.34m0 -8.34l-8.34 8.34M412.33 447.33l8.34 8.34m0 -8.34l-8.34 8.34M414.33 447.33l8.34 8.34m0 -8.34l-8.34 8.34M418.33 446.33l8.34 8.34m0 -8.34l-8.34 8.34M420.33 446.33l8.34 8.34m0 -8.34l-8.34 8.34M421.33 446.33l8.34 8.34m0 -8.34l-8.34 8.34M424.33 444.33l8.34 8.34m0 -8.34l-8.34 8.34"/>
<path class="b" d="M312.33 445.33l8.34 8.34m0 -8.34l-8.34 8.34M314.33 446.33l8.34 8.34m0 -8.34l-8.34 8.34M317.33 446.33l8.34 8.34m0 -8.34l-8.34 8.34M318.33 445.33l8.34 8.34m0 -8.34l-8.34 8.34M323.33 446.33l8.34 8.34m0 -8.34l-8.34 8.34M327.33 443.33l8.34 8.34m0 -8.34l-8.34 8.34M328.33 447.33l8.34 8.34m0 -8.34l-8.34 8.34M330.33 446.33l8.34 8.34m0 -8.34l-8.34 8.34M334.33 445.33l8.34 8.34m0 -8.34l-8.34 8.34M335.33 445.33l8.34 8.34m0 -8.34l-8.34 8.34M337.33 446.33l8.34 8.34m0 -8.34l-8.34 8.34M339.33 446.33l8.34 8.34m0 -8.34l-8.34 8.34M343.33 446.33l8.34 8.34m0 -8.34l-8.34 8.34M344.33 446.33l8.34 8.34m0 -8.34l-8.34 8.34M346.33 446.33l8.34 8.34m0 -8.34l-8.34 8.34M351.33 446.33l8.34 8.34m0 -8.34l-8.34 8.34M358.33 445.33l8.34 8.34m0 -8.34l-8.34 8.34M361.33 445.33l8.34 8.34m0 -8.34l-8.34 8.34M364.33 446.33l8.34 8.34m0 -8.34l-8.34 8.34M367.33 446.33l8.34 8.34m0 -8.34l-8.34 8.34M370.33 446.33l8.34 8.34m0 -8.34l-8.34 8.34M372.33 446.33l8.34 8.34m0 -8.34l-8.34 8.34M375.33 446.33l8.34 8.34m0 -8.34l-8.34 8.34M378.33 446.33l8.34 8.34m0 -8.34l-8.34 8.34M382.33 446.33l8.34 8.34m0 -8.34l-8.34 8.34M384.33 447.33l8.34 8.34m0 -8.34l-8.34 8.34M387.33 444.33l8.34 8.34m0 -8.34l-8.34 8.34M388.33 445.33l8.34 8.34m0 -8.34l-8.34 8.34M392.33 447.33l8.34 8.34m0 -8.34l-8.34 8.34M396.33 445.33l8.34 8.34m0 -8.34l-8.34 8.34M399.33 444.33l8.34 8.34m0 -8.34l-8.34 8.34M403.33 446.33l8.34 8.34m0 -8.34l-8.34 8.34M404.33 445.33l8.34 8.34m0 -8.34l-8.34 8.34M407.33 445.33l8.34 8.34m0 -8.34l-8.34 8.34M410.33 447.33l8.34 8.34m0 -8.34l-8.34 8.34M412.33 448.33l8.34 8.34m0 -8.34l-8.34 8.34M414.33 446.33l8.34 8.34m0 -8.34l-8.34 8.34M418.33 445.33l8.34 8.34m0 -8.34l-8.34 8.34M420.33 447.33l8.34 8.34m0 -8.34l-8.34 8.34M422.33 445.33l8.34 8.34m0 -8.34l-8.34 8.34M424.33 445.33l8.34 8.34m0 -8.34l-8.34 8.34"/>
<path class="b" d="M313.33 445.33l8.34 8.34m0 -8.34l-8.34 8.34M314.33 445.33l8.34 8.34m0 -8.34l-8.34 8.34M317.33 446.33l8.34 8.34m0 -8.34l-8.34 8.34M319.33 445.33l8.34 8.34m0 -8.34l-8.34 8.34M324.33 444.33l8.34 8.34m0 -8.34l-8.34 8.34M327.33 446.33l8.34 8.34m0 -8.34l-8.34 8.34M328.33 446.33l8.34 8.34m0 -8.34l-8.34 8.34M330.33 445.33l8.34 8.34m0 -8.34l-8.34 8.34M334.33 444.33l8.34 8.34m0 -8.34l-8.34 8.34M336.33 446.33l8.34 8.34m0 -8.34l-8.34 8.34M337.33 446.33l8.34 8.34m0 -8.34l-8.34 8.34M341.33 446.33l8.34 8.34m0 -8.34l-8.34 8.34M343.33 446.33l8.34 8.34m0 -8.34l-8.34 8.34M344.33 445.33l8.34 8.34m0 -8.34l-8.34 8.34M347.33 446.33l8.34 8.34m0 -8.34l-8.34 8.34M352.33 446.33l8.34 8.34m0 -8.34l-8.34 8.34M358.33 444.33l8.34 8.34m0 -8.34l-8.34 8.34M363.33 444.33l8.34 8.34m0 -8.34l-8.34 8.34M364.33 444.33l8.34 8.34m0 -8.34l-8.34 8.34M368.33 445.33l8.34 8.34m0 -8.34l-8.34 8.34M370.33 446.33l8.34 8.34m0 -8.34l-8.34 8.34M372.33 445.33l8.34 8.34m0 -8.34l-8.34 8.34M375.33 444.33l8.34 8.34m0 -8.34l-8.34 8.34M378.33 446.33l8.34 8.34m0 -8.34l-8.34 8.34M383.33 447.33l8.34 8.34m0 -8.34l-8.34 8.34M384.33 446.33l8.34 8.34m0 -8.34l-8.34 8.34M387.33 446.33l8.34 8.34m0 -8.34l-8.34 8.34M388.33 447.33l8.34 8.34m0 -8.34l-8.34 8.34M392.33 445.33l8.34 8.34m0 -8.34l-8.34 8.34M396.33 446.33l8.34 8.34m0 -8.34l-8.34 8.34M400.33 446.33l8.34 8.34m0 -8.34l-8.34 8.34M403.33 445.33l8.34 8.34m0 -8.34l-8.34 8.34M405.33 445.33l8.34 8.34m0 -8.34l-8.34 8.34M408.33 446.33l8.34 8.34m0 -8.34l-8.34 8.34M410.33 447.33l8.34 8.34m0 -8.34l-8.34 8.34M413.33 446.33l8.34 8.34m0 -8.34l-8.34 8.34M416.33 446.33l8.34 8.34m0 -8.34l-8.34 8.34M419.33 446.33l8.34 8.34m0 -8.34l-8.34 8.34M421.33 445.33l8.34 8.34m0 -8.34l-8.34 8.34M422.33 446.33l8.34 8.34m0 -8.34l-8.34 8.34M425.33 446.33l8.34 8.34m0 -8.34l-8.34 8.34"/>
<path class="b" d="M313.33 445.33l8.34 8.34m0 -8.34l-8.34 8.34M316.33 447.33l8.34 8.34m0 -8.34l-8.34 8.34M317.33 446.33l8.34 8.34m0 -8.34l-8.34 8.34M322.33 447.33l8.34 8.34m0 -8.34l-8.34 8.34M324.33 447.33l8.34 8.34m0 -8.34l-8.34 8.34M327.33 445.33l8.34 8.34m0 -8.34l-8.34 8.34M329.33 446.33l8.34 8.34m0 -8.34l-8.34 8.34M330.33 445.33l8.34 8.34m0 -8.34l-8.34 8.34M334.33 447.33l8.34 8.34m0 -8.34l-8.34 8.34M336.33 445.33l8.34 8.34m0 -8.34l-8.34 8.34M337.33 445.33l8.34 8.34m0 -8.34l-8.34 8.34M342.33 445.33l8.34 8.34m0 -8.34l-8.34 8.34M343.33 445.33l8.34 8.34m0 -8.34l-8.34 8.34M346.33 446.33l8.34 8.34m0 -8.34l-8.34 8.34M348.33 446.33l8.34 8.34m0 -8.34l-8.34 8.34M353.33 446.33l8.34 8.34m0 -8.34l-8.34 8.34M359.33 445.33l8.34 8.34m0 -8.34l-8.34 8.34M363.33 446.33l8.34 8.34m0 -8.34l-8.34 8.34M366.33 444.33l8.34 8.34m0 -8.34l-8.34 8.34M368.33 445.33l8.34 8.34m0 -8.34l-8.34 8.34M371.33 446.33l8.34 8.34m0 -8.34l-8.34 8.34M373.33 444.33l8.34 8.34m0 -8.34l-8.34 8.34M376.33 446.33l8.34 8.34m0 -8.34l-8.34 8.34M378.33 445.33l8.34 8.34m0 -8.34l-8.34 8.34M383.33 446.33l8.34 8.34m0 -8.34l-8.34 8.34M384.33 447.33l8.34 8.34m0 -8.34l-8.34 8.34M387.33 447.33l8.34 8.34m0 -8.34l-8.34 8.34M389.33 446.33l8.34 8.34m0 -8.34l-8.34 8.34M393.33 446.33l8.34 8.34m0 -8.34l-8.34 8.34M396.33 446.33l8.34 8.34m0 -8.34l-8.34 8.34M401.33 445.33l8.34 8.34m0 -8.34l-8.34 8.34M404.33 447.33l8.34 8.34m0 -8.34l-8.34 8.34M405.33 444.33l8.34 8.34m0 -8.34l-8.34 8.34M408.33 444.33l8.34 8.34m0 -8.34l-8.34 8.34M411.33 444.33l8.34 8.34m0 -8.34l-8.34 8.34M413.33 446.33l8.34 8.34m0 -8.34l-8.34 8.34M416.33 445.33l8.34 8.34m0 -8.34l-8.34 8.34M420.33 447.33l8.34 8.34m0 -8.34l-8.34 8.34M421.33 445.33l8.34 8.34m0 -8.34l-8.34 8.34M423.33 446.33l8.34 8.34m0 -8.34l-8.34 8.34M426.33 447.33l8.34 8.34m0 -8.34l-8.34 8.34"/>
<path class="b" d="M314.33 446.33l8.34 8.34m0 -8.34l-8.34 8.34M317.33 445.33l8.34 8.34m0 -8.34l-8.34 8.34M317.33 446.33l8.34 8.34m0 -8.34l-8.34 8.34M323.33 446.33l8.34 8.34m0 -8.34l-8.34 8.34M326.33 446.33l8.34 8.34m0 -8.34l-8.34 8.34M328.33 445.33l8.34 8.34m0 -8.34l-8.34 8.34M329.33 446.33l8.34 8.34m0 -8.34l-8.34 8.34M331.33 446.33l8.34 8.34m0 -8.34l-8.34 8.34M335.33 446.33l8.34 8.34m0 -8.34l-8.34 8.34M336.33 445.33l8.34 8.34m0 -8.34l-8.34 8.34M339.33 446.33l8.34 8.34m0 -8.34l-8.34 8.34M342.33 445.33l8.34 8.34m0 -8.34l-8.34 8.34M343.33 446.33l8.34 8.34m0 -8.34l-8.34 8.34M346.33 446.33l8.34 8.34m0 -8.34l-8.34 8.34M350.33 445.33l8.34 8.34m0 -8.34l-8.34 8.34M353.33 446.33l8.34 8.34m0 -8.34l-8.34 8.34M360.33 445.33l8.34 8.34m0 -8.34l-8.34 8.34M363.33 444.33l8.34 8.34m0 -8.34l-8.34 8.34M366.33 445.33l8.34 8.34m0 -8.34l-8.34 8.34M368.33 445.33l8.34 8.34m0 -8.34l-8.34 8.34M371.33 447.33l8.34 8.34m0 -8.34l-8.34 8.34M374.33 446.33l8.34 8.34m0 -8.34l-8.34 8.34M377.33 446.33l8.34 8.34m0 -8.34l-8.34 8.34M379.33 446.33l8.34 8.34m0 -8.34l-8.34 8.34M383.33 446.33l8.34 8.34m0 -8.34l-8.34 8.34M384.33 446.33l8.34 8.34m0 -8.34l-8.34 8.34M387.33 444.33l8.34 8.34m0 -8.34l-8.34 8.34M390.33 445.33l8.34 8.34m0 -8.34l-8.34 8.34M393.33 444.33l8.34 8.34m0 -8.34l-8.34 8.34M397.33 445.33l8.34 8.34m0 -8.34l-8.34 8.34M402.33 446.33l8.34 8.34m0 -8.34l-8.34 8.34M404.33 446.33l8.34 8.34m0 -8.34l-8.34 8.34M407.33 444.33l8.34 8.34m0 -8.34l-8.34 8.34M409.33 445.33l8.34 8.34m0 -8.34l-8.34 8.34M411.33 446.33l8.34 8.34m0 -8.34l-8.34 8.34M413.33 445.33l8.34 8.34m0 -8.34l-8.34 8.34M416.33 444.33l8.34 8.34m0 -8.34l-8.34 8.34M420.33 447.33l8.34 8.34m0 -8.34l-8.34 8.34M421.33 445.33l8.34 8.34m0 -8.34l-8.34 8.34M423.33 446.33l8.34 8.34m0 -8.34l-8.34 8.34"/>
<path class="b" d="M291.33 394.33l8.34 8.34m0 -8.34l-8.34 8.34M381.33 360.33l8.34 8.34m0 -8.34l-8.34 8.34M379.33 389.33l8.34 8.34m0 -8.34l-8.34 8.34M329.33 436.33l8.34 8.34m0 -8.34l-8.34 8.34M425.33 291.33l8.34 8.34m0 -8.34l-8.34 8.34M425.33 296.33l8.34 8.34m0 -8.34l-8.34 8.34M420.33 323.33l8.34 8.34m0 -8.34l-8.34 8.34M425.33 332.33l8.34 8.34m0 -8.34l-8.34 8.34M401.33 363.33l8.34 8.34m0 -8.34l-8.34 8.34M426.33 385.33l8.34 8.34m0 -8.34l-8.34 8.34M423.33 414.33l8.34 8.34m0 -8.34l-8.34 8.34M418.33 463.33l8.34 8.34m0 -8.34l-8.34 8.34M396.33 438.33l8.34 8.34m0 -8.34l-8.34 8.34M307.33 446.33l8.34 8.34m0 -8.34l-8.34 8.34M329.33 437.33l8.34 8.34m0 -8.34l-8.34 8.34"/>
<g fill="#000"><circle cx="319.7" cy="450.6" r="4.6"/><circle cx="321.2" cy="450.6" r="4.6"/><circle cx="322.7" cy="450.6" r="4.6"/><circle cx="324.2" cy="450.6" r="4.6"/><circle cx="325.7" cy="450.6" r="4.6"/><circle cx="327.2" cy="450.6" r="4.6"/><circle cx="328.7" cy="450.6" r="4.6"/><circle cx="330.2" cy="450.6" r="4.6"/><circle cx="331.7" cy="450.6" r="4.6"/><circle cx="333.2" cy="450.6" r="4.6"/><circle cx="334.7" cy="450.6" r="4.6"/><circle cx="336.2" cy="450.6" r="4.6"/><circle cx="337.7" cy="450.6" r="4.6"/><circle cx="339.2" cy="450.6" r="4.6"/><circle cx="340.7" cy="450.6" r="4.6"/><circle cx="342.2" cy="450.6" r="4.6"/><circle cx="343.7" cy="450.6" r="4.6"/><circle cx="345.2" cy="450.6" r="4.6"/><circle cx="346.7" cy="450.6" r="4.6"/><circle cx="348.2" cy="450.6" r="4.6"/><circle cx="349.7" cy="450.6" r="4.6"/><circle cx="351.2" cy="450.6" r="4.6"/><circle cx="352.7" cy="450.6" r="4.6"/><circle cx="354.2" cy="450.6" r="4.6"/><circle cx="355.7" cy="450.6" r="4.6"/><circle cx="357.2" cy="450.6" r="4.6"/><circle cx="358.7" cy="450.6" r="4.6"/><circle cx="360.2" cy="450.6" r="4.6"/><circle cx="361.7" cy="450.6" r="4.6"/><circle cx="344.0" cy="451.6" r="4.6"/><circle cx="354.2" cy="451.6" r="4.6"/><circle cx="371.4" cy="450.8" r="4.6"/><circle cx="329.0" cy="450.2" r="4.6"/></g>
<path d="M100.6 450.6H720" stroke="#0000ff" stroke-width="1.4" stroke-dasharray="8.33 8.33" fill="none"/>
</g>
<rect x="100.5" y="60.5" width="620" height="480" fill="none" stroke="#000" stroke-width="1.3"/>
<path d="M100.5 540.5v-6M183.5 540.5v-6M265.5 540.5v-6M348.5 540.5v-6M431.5 540.5v-6M513.5 540.5v-6M596.5 540.5v-6M679.5 540.5v-6M135.5 60.5v6M218.5 60.5v6M300.5 60.5v6M383.5 60.5v6M466.5 60.5v6M548.5 60.5v6M631.5 60.5v6M714.5 60.5v6M100.5 540.5h6M720.5 540.5h-6M100.5 420.5h6M720.5 420.5h-6M100.5 300.5h6M720.5 300.5h-6M100.5 180.5h6M720.5 180.5h-6M100.5 60.5h6M720.5 60.5h-6" stroke="#000" stroke-width="0.85" fill="none"/>
<text class="tk" transform="translate(100.5,560) scale(0.97,1.04)" text-anchor="middle">−20</text>
<text class="tk" transform="translate(183.2,560) scale(0.97,1.04)" text-anchor="middle">−18</text>
<text class="tk" transform="translate(265.8,560) scale(0.97,1.04)" text-anchor="middle">−16</text>
<text class="tk" transform="translate(348.5,560) scale(0.97,1.04)" text-anchor="middle">−14</text>
<text class="tk" transform="translate(431.2,560) scale(0.97,1.04)" text-anchor="middle">−12</text>
<text class="tk" transform="translate(513.8,560) scale(0.97,1.04)" text-anchor="middle">−10</text>
<text class="tk" transform="translate(596.5,560) scale(0.97,1.04)" text-anchor="middle">−8</text>
<text class="tk" transform="translate(679.2,560) scale(0.97,1.04)" text-anchor="middle">−6</text>
<text class="tk" transform="translate(134.3,49.6) scale(0.97,1.04)" text-anchor="middle">14</text>
<text class="tk" transform="translate(217.3,49.6) scale(0.97,1.04)" text-anchor="middle">16</text>
<text class="tk" transform="translate(299.3,49.6) scale(0.97,1.04)" text-anchor="middle">18</text>
<text class="tk" transform="translate(382.3,49.6) scale(0.97,1.04)" text-anchor="middle">20</text>
<text class="tk" transform="translate(465.3,49.6) scale(0.97,1.04)" text-anchor="middle">22</text>
<text class="tk" transform="translate(547.3,49.6) scale(0.97,1.04)" text-anchor="middle">24</text>
<text class="tk" transform="translate(630.3,49.6) scale(0.97,1.04)" text-anchor="middle">26</text>
<text class="tk" transform="translate(713.3,49.6) scale(0.97,1.04)" text-anchor="middle">28</text>
<text class="tk" transform="translate(95,545.2) scale(0.97,1.04)" text-anchor="end">0</text>
<text class="tk" transform="translate(95,425.2) scale(0.97,1.04)" text-anchor="end">5</text>
<text class="tk" transform="translate(95,305.2) scale(0.97,1.04)" text-anchor="end">10</text>
<text class="tk" transform="translate(95,185.2) scale(0.97,1.04)" text-anchor="end">15</text>
<text class="tk" transform="translate(95,65.2) scale(0.97,1.04)" text-anchor="end">20</text>
<text class="ti" transform="translate(410.5,28.5) scale(1,1)" text-anchor="middle">FWHM vs magnitudes</text>
<text class="tk" transform="translate(411,583.7) scale(0.995,1.07)" text-anchor="middle">magnitude (bottom:isnt / top:calib)</text>
<text class="tk" transform="translate(64.4,300) rotate(-90) scale(0.995,1.06)" text-anchor="middle">FWHM (pix)</text>
<rect x="398.5" y="70.5" width="312" height="122" fill="#fff" stroke="#000" stroke-width="1.3"/>
<path class="c" style="stroke-width:0.75" d="M408.3 86.5h8.4M412.5 82.3v8.4M436.3 86.5h8.4M440.5 82.3v8.4"/>
<path class="b" style="stroke-width:0.75" d="M408.3 111.5l8.4 8.4M408.3 119.9l8.4 -8.4M436.3 111.5l8.4 8.4M436.3 119.9l8.4 -8.4"/>
<circle cx="412.5" cy="144.5" r="4.5"/><circle cx="440.5" cy="144.5" r="4.5"/>
<path d="M411.9 172.7h28.5" stroke="#0000ff" stroke-width="1.4" stroke-dasharray="9 7.7" fill="none"/>
<text class="lg" transform="translate(462.2,92.7) scale(1.0,1.0)" text-anchor="start">all sample</text>
<text class="lg" transform="translate(462.2,121.6) scale(1.0,1.0)" text-anchor="start">sample for rough FWHM</text>
<text class="lg" transform="translate(462.2,150.6) scale(1.0,1.0)" text-anchor="start">coarse PSF-like sample</text>
<text class="lg" transform="translate(462.2,179.7) scale(1.0,1.0)" text-anchor="start">tentative FWHM</text>
</svg></body></html>
